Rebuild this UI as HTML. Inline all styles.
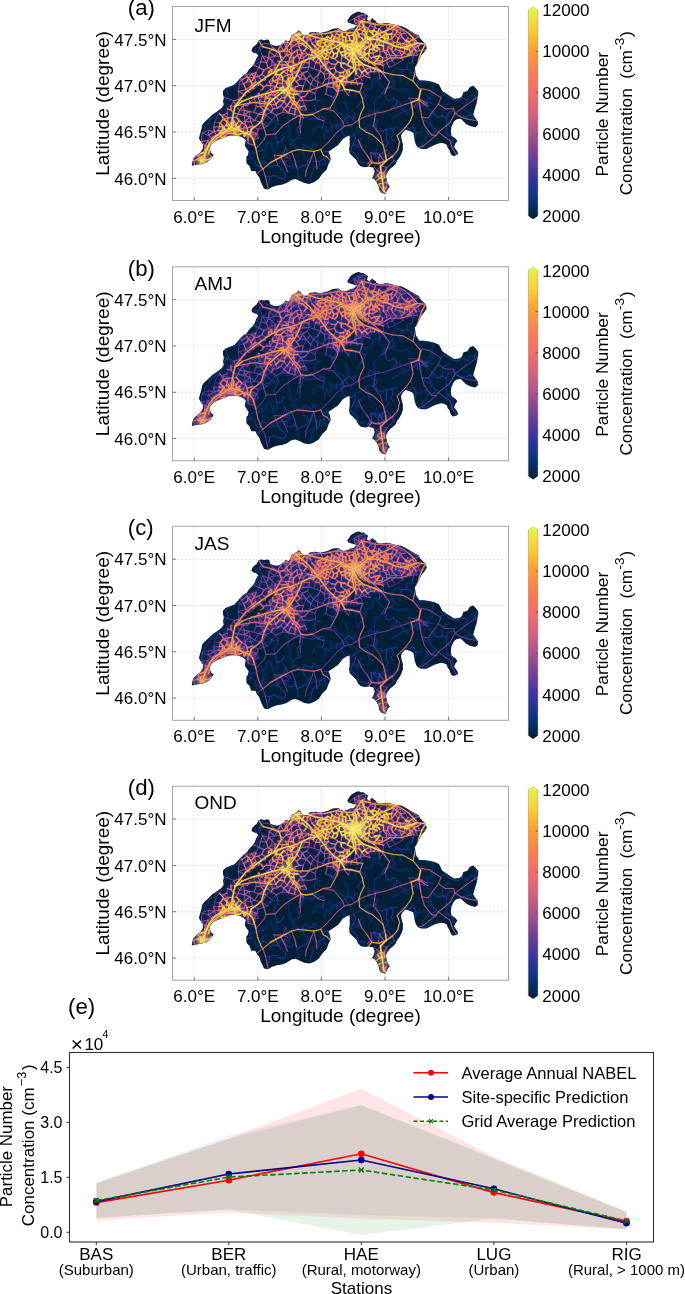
<!DOCTYPE html>
<html><head><meta charset="utf-8"><title>Particle number concentration maps</title>
<style>
html,body{margin:0;padding:0;background:#fff;}
body{width:685px;height:1294px;overflow:hidden;}
svg{display:block;will-change:transform;font-family:"Liberation Sans", sans-serif;fill:#000;}
.grid{stroke:#e4e4e4;stroke-width:1;stroke-dasharray:2.6 1.4;}
.frame{fill:none;stroke:#a6a6a6;stroke-width:1;}
.tick{stroke:#777;stroke-width:1;}
</style></head><body>
<svg width="685" height="1294" viewBox="0 0 685 1294">
<defs><path id="t0" d="M370.8 152.6L379.4 154.4M258.3 129.4L261.9 122.8M267.6 126.2L271.9 120.0M408.8 98.2L414.0 107.4M418.2 98.6L414.0 107.4M387.0 150.2L394.3 160.6M379.7 79.1L383.5 71.9M349.7 89.7L360.0 91.3M262.4 55.7L259.2 47.0M253.5 65.2L260.7 61.6M360.0 91.3L357.7 85.0M285.8 147.2L282.7 155.4M421.9 89.3L418.2 98.6M271.9 120.0L276.2 115.1M212.8 141.7L209.8 146.4M387.0 150.2L379.4 154.4M333.8 97.5L336.9 91.4M218.1 114.5L214.5 122.4"/>
<path id="h0" d=""/>
<path id="a0" d=""/>
<path id="t1" d="M315.8 99.2L314.9 93.6M409.6 31.5L405.3 33.5M267.6 126.2L261.9 122.8M376.7 170.2L381.6 166.1M390.5 55.7L392.8 52.4M374.2 71.7L378.9 71.7M412.2 39.6L414.1 34.3M395.5 64.6L389.0 67.4M278.4 120.9L276.2 115.1M271.9 120.0L265.8 115.0M376.7 170.2L373.2 165.5M317.9 82.1L322.8 83.7M354.1 18.5L348.6 22.2M387.0 57.7L387.1 62.7M362.5 80.9L360.0 77.6M247.5 105.6L243.3 101.5M370.1 77.9L367.7 73.4M277.6 164.4L274.1 155.2M202.1 133.0L208.2 135.2M250.2 117.1L249.1 111.6M208.6 130.5L208.2 135.2M328.9 82.6L333.0 83.1M228.2 117.9L227.2 113.2M258.3 76.6L255.8 72.6M317.1 88.4L314.9 93.6M201.4 141.8L202.1 133.0M349.7 89.7L351.0 85.3M384.1 161.1L381.6 166.1M270.7 44.7L264.5 43.3M303.6 118.0L294.7 114.6M239.2 99.3L238.3 91.6M365.8 14.4L364.6 19.2M378.5 162.0L379.4 154.4M258.5 138.3L256.7 133.9M408.8 98.2L418.2 98.6M202.1 133.0L208.6 130.5M233.9 100.8L224.2 97.0M259.2 47.0L264.5 43.3M239.2 84.6L238.3 91.6M303.4 85.5L306.2 79.4M362.5 80.9L357.7 85.0M309.3 91.2L310.9 84.3M383.5 71.9L383.3 65.7M387.0 57.7L390.5 55.7M348.7 95.5L349.7 89.7M387.1 62.7L392.0 60.6M408.0 37.9L405.3 33.5M325.7 94.2L333.8 97.5M267.6 126.2L258.3 129.4M218.1 114.5L223.1 115.0M317.9 82.1L318.0 75.0M379.7 79.1L378.9 71.7M302.4 73.4L297.9 75.7M377.5 175.4L373.4 178.9M370.8 152.6L371.8 160.3M351.0 85.3L357.7 85.0M412.4 62.6L413.5 55.1M253.0 126.2L251.6 131.7M307.3 71.2L308.9 67.0M306.7 109.8L300.0 110.7M250.3 102.0L254.1 98.5M239.2 84.6L243.6 83.7M395.5 64.6L392.0 60.6M387.0 167.5L381.6 166.1M403.1 59.9L395.5 64.6M214.5 122.4L213.8 127.1M364.6 19.2L358.5 16.1M396.6 55.6L399.3 50.6M247.1 98.6L243.3 101.5M265.8 115.0L271.3 112.1M383.3 65.7L387.1 62.7M239.2 84.6L240.7 78.9M258.9 67.6L255.8 72.6M220.2 123.0L214.5 122.4M233.9 100.8L230.8 105.7M227.4 108.9L227.2 113.2M378.5 162.0L373.2 165.5M211.8 138.1L208.2 140.4M288.0 157.7L282.7 155.4M244.8 74.3L240.7 78.9M304.7 105.9L303.0 100.2M387.0 167.5L394.3 160.6M310.9 84.3L317.1 88.4M282.3 112.4L288.5 113.0M409.6 31.5L414.1 34.3M307.3 71.2L310.4 75.2M371.8 160.3L373.2 165.5M272.1 60.8L274.9 56.0M258.5 138.3L253.8 139.5"/>
<path id="h1" d="M280.7 157.0L284.5 164.4"/>
<path id="a1" d="M435.2 94.0L441.0 97.7M441.0 97.7L438.4 104.2M438.4 104.2L445.4 108.8M445.4 108.8L453.7 108.8M453.7 108.8L455.0 113.5M455.0 113.5L461.3 108.8M461.3 108.8L467.7 104.2M467.7 104.2L472.8 100.5M472.8 100.5L477.9 96.8M438.4 132.0L445.4 137.6M445.4 137.6L449.9 140.3M449.9 140.3L452.4 148.7M452.4 148.7L456.2 154.2M456.2 154.2L459.4 157.9M435.9 135.7L428.9 141.3M428.9 141.3L423.2 145.9M423.2 145.9L418.1 147.7M404.4 104.7L397.7 107.0M397.7 107.0L391.4 109.3M391.4 109.3L385.0 111.6M385.0 111.6L375.5 113.5M375.5 113.5L369.7 115.3M369.7 115.3L364.0 117.2M364.0 117.2L358.9 120.0M358.9 120.0L351.9 124.6M351.9 124.6L347.5 125.5M347.5 125.5L344.3 126.4M344.3 126.4L337.3 132.0M337.3 132.0L330.9 139.4M330.9 139.4L325.9 144.5M325.9 144.5L320.8 149.6M344.3 126.4L342.4 120.9M342.4 120.9L336.0 113.5M336.0 113.5L333.5 110.7M333.5 110.7L323.3 108.8M299.8 122.7L300.4 132.9M318.2 119.0L323.9 120.9M313.8 151.4L310.0 161.6M310.0 161.6L306.1 170.9M306.1 170.9L305.5 176.4M313.8 151.4L316.3 161.6M316.3 161.6L316.9 169.0M262.9 169.0L265.4 176.4M265.4 176.4L267.3 184.8M267.3 184.8L268.6 190.3M284.5 164.4L287.7 171.8M291.5 151.4L294.7 159.8M294.7 159.8L296.6 167.2M455.0 113.5L461.3 117.2M461.3 117.2L467.0 119.0M467.0 119.0L477.2 120.9M383.1 145.0L380.5 135.7M380.5 135.7L373.6 126.4M373.6 126.4L374.5 120.0M374.5 120.0L375.5 113.5M262.9 169.0L257.8 172.7M257.8 172.7L254.0 175.5M255.9 148.7L261.0 143.1M261.0 143.1L264.2 139.4M264.2 139.4L266.1 134.8M424.4 104.2L428.2 106.1M438.4 104.2L432.7 111.6M432.7 111.6L428.2 118.1M428.2 118.1L421.9 117.2"/>
<path id="t2" d="M219.2 126.8L213.8 127.1M363.2 30.8L363.7 26.5M249.1 111.6L253.9 112.2M268.1 109.0L271.3 112.1M328.8 77.8L328.9 82.6M270.7 44.7L273.6 48.6M273.4 92.0L274.4 95.4M317.9 82.1L313.3 79.3M392.8 52.4L395.5 49.7M310.5 39.8L306.8 42.1M324.3 74.2L329.7 73.1M259.6 100.9L255.9 102.6M277.6 51.4L274.9 56.0M250.2 117.1L250.7 122.1M239.6 110.1L244.3 110.3M260.7 61.6L258.9 67.6M217.1 139.7L221.4 137.7M302.1 67.8L298.4 69.8M303.0 100.2L299.0 100.5M270.1 94.7L270.1 98.5M246.0 89.5L244.9 94.7M292.2 53.8L293.7 58.1M282.3 112.4L283.7 108.6M367.5 164.0L371.8 160.3M359.7 25.8L359.4 22.0M304.2 50.7L300.5 49.7M269.2 51.8L274.9 56.0M254.6 120.6L258.6 114.2M342.1 33.1L345.9 31.7M348.7 95.5L344.0 89.7M244.3 110.3L242.9 105.6M381.0 26.7L379.1 29.3M349.1 32.3L351.2 29.0M302.0 40.4L306.8 42.1M282.3 112.4L276.2 115.1M315.9 37.5L320.8 34.0M268.1 109.0L264.3 106.2M402.4 37.4L398.3 38.7M404.7 52.5L407.5 55.2M301.7 92.2L297.9 94.2M208.6 153.6L211.6 157.4M294.0 45.4L298.9 46.8M265.6 92.8L270.2 89.4M313.9 68.8L308.9 67.0M270.5 85.7L270.2 89.4M380.1 52.2L383.5 50.9M253.0 126.2L250.7 122.1M277.9 61.1L279.1 64.3M395.1 34.6L400.7 33.8M351.4 81.6L346.7 82.7M327.2 86.7L322.8 83.7M364.6 19.2L364.1 23.1M277.6 51.4L280.4 56.1M299.0 100.5L300.9 97.2M344.0 89.7L336.9 91.4M256.2 106.7L253.9 112.2M244.9 94.7L238.3 91.6M208.2 140.4L209.8 146.4M254.6 120.6L261.9 122.8M400.3 28.8L400.7 33.8M356.2 30.0L354.8 32.7M262.3 90.9L265.6 92.8M272.1 60.8L271.6 65.6M370.1 25.4L375.0 27.7M418.6 36.9L414.1 34.3M312.1 43.6L315.3 41.2M264.4 101.9L264.3 106.2M424.9 49.9L419.5 50.9M272.1 60.8L275.3 64.4M294.0 45.4L290.5 44.1M304.9 62.3L302.1 67.8M275.3 64.4L271.6 65.6M258.3 129.4L253.0 126.2M280.7 105.8L283.7 108.6M265.8 115.0L264.2 111.0M378.9 64.1L376.7 60.1M319.4 62.7L320.8 66.4M324.9 79.4L328.8 77.8M324.9 79.4L324.3 74.2M223.1 115.0L223.0 119.4M387.0 182.9L386.4 187.1M271.6 69.8L274.8 68.9M282.5 65.0L281.6 61.4M309.1 100.8L315.8 99.2M254.1 98.5L255.9 102.6M379.4 154.4L384.1 161.1M216.2 135.2L214.4 131.6M275.3 64.4L279.1 64.3M320.5 70.9L313.9 68.8M310.9 84.3L313.3 79.3M258.6 114.2L253.9 112.2M286.3 55.2L289.9 57.6M245.1 121.1L250.7 122.1M247.1 98.6L244.9 94.7M364.1 23.1L359.4 22.0M400.3 28.8L405.3 33.5M357.7 85.0L355.9 78.8M325.9 64.8L330.6 68.8M325.7 94.2L327.2 86.7M274.1 155.2L282.7 155.4M300.4 78.7L306.2 79.4M309.3 91.2L314.9 93.6M236.4 106.6L230.8 105.7M315.6 62.6L313.3 59.9M310.4 75.2L306.2 79.4M274.9 56.0L268.6 57.9M264.4 101.9L259.6 100.9M256.2 106.7L255.9 102.6M390.5 55.7L392.0 60.6M375.0 27.7L379.1 29.3M250.2 117.1L254.6 120.6M408.0 37.9L412.2 39.6M254.1 98.5L258.2 97.3M302.4 73.4L298.4 69.8M244.8 74.3L248.6 77.8M283.7 50.8L286.3 55.2M297.9 94.2L295.1 90.6M403.1 59.9L401.4 55.4M386.2 24.8L381.0 26.7M208.6 130.5L214.4 131.6M290.6 107.3L287.0 105.7M325.5 69.7L329.7 73.1M337.5 86.4L333.4 87.5M315.9 37.5L310.5 39.8M360.0 77.6L364.0 76.0M211.8 138.1L208.2 135.2M426.9 103.3L418.2 98.6M253.5 65.2L258.9 67.6M400.3 28.8L397.0 26.2M261.9 96.7L259.6 100.9M396.6 55.6L401.4 55.4M315.6 62.6L313.9 68.8M276.2 115.1L271.3 112.1M245.1 121.1L244.2 115.1M262.4 55.7L268.6 57.9M247.1 81.7L251.0 81.6M254.6 120.6L250.7 122.1M236.4 106.6L239.6 110.1M325.5 69.7L320.8 66.4M268.2 67.9L271.6 65.6M201.4 141.8L205.2 145.8M262.4 55.7L266.5 62.8M247.5 105.6L242.9 105.6M251.7 74.0L244.8 74.3M271.2 104.6L272.9 108.8M417.5 55.5L413.5 55.1M246.0 89.5L238.3 91.6M262.4 55.7L260.7 61.6M310.4 75.2L313.3 79.3M376.7 170.2L380.1 172.6M407.5 55.2L413.5 55.1M258.2 97.3L259.2 93.6M280.4 56.1L274.9 56.0M389.0 67.4L387.1 62.7M254.4 77.2L248.6 77.8M265.6 97.7L261.9 96.7M304.2 50.7L307.9 54.3M378.9 64.1L375.8 67.6M309.4 58.6L309.3 62.9M317.9 82.1L317.1 88.4M261.9 122.8L265.8 115.0M273.0 81.1L269.2 81.0M344.1 85.8L346.7 82.7M390.8 25.4L393.8 29.0M275.7 86.7L270.2 89.4M251.7 74.0L248.6 77.8M354.1 18.5L358.5 16.1M417.5 55.5L416.0 50.9M349.7 89.7L344.0 89.7M365.8 14.4L358.5 16.1M325.5 69.7L324.3 74.2M250.4 93.1L253.7 88.7M260.7 61.6L266.5 62.8M265.2 76.8L268.4 75.7M412.0 51.3L407.7 49.4M266.8 85.5L265.7 80.5M396.7 45.9L393.1 46.1M303.6 118.0L300.0 110.7M315.9 37.5L315.3 41.2M309.1 100.8L303.0 100.2M324.9 79.4L322.8 83.7M364.0 76.0L367.7 73.4M201.4 141.8L208.2 140.4M404.4 48.5L403.8 43.7M388.2 47.0L390.5 43.4M228.2 117.9L223.1 115.0M251.7 135.6L256.7 133.9M318.0 75.0L313.3 79.3M247.2 127.9L244.0 128.0M419.5 50.9L416.0 50.9M253.5 145.1L248.2 143.4M259.1 83.3L255.7 82.3M253.8 139.5L256.7 133.9M416.0 50.9L413.5 55.1M243.6 83.7L240.7 78.9M383.5 71.9L378.9 71.7M315.9 37.5L314.3 32.8M253.5 145.1L253.8 139.5M258.3 129.4L256.7 133.9M387.0 57.7L382.6 57.8M245.1 121.1L241.9 122.8M285.2 61.6L281.6 61.4M344.0 89.7L344.1 85.8M386.2 24.8L390.8 25.4M383.3 65.7L382.1 61.7"/>
<path id="h2" d="M418.7 99.6L420.6 110.7M371.6 162.6L367.2 155.2M301.0 114.4L299.8 122.7M301.0 114.4L292.8 119.0M263.8 127.8L261.6 120.9M418.7 99.6L424.4 104.2"/>
<path id="a2" d="M420.6 88.5L429.5 90.3M429.5 90.3L435.2 94.0M420.6 110.7L421.9 117.2M421.9 117.2L424.4 125.5M424.4 125.5L431.4 134.8M431.4 134.8L435.9 135.7M435.9 135.7L438.4 132.0M438.4 132.0L442.2 129.2M442.2 129.2L449.9 122.7M449.9 122.7L455.0 113.5M411.1 102.4L404.4 104.7M367.2 155.2L361.5 147.7M361.5 147.7L358.3 139.4M292.8 119.0L284.5 124.6M284.5 124.6L281.3 127.4M281.3 127.4L275.6 133.9M275.6 133.9L266.1 134.8M266.1 134.8L263.8 127.8M312.5 114.4L318.2 119.0"/>
<path id="t3" d="M377.7 32.4L381.6 31.5M284.3 101.3L280.7 105.8M238.2 113.8L244.2 115.1M359.7 25.8L363.7 26.5M304.2 50.7L302.0 53.7M219.2 126.8L218.6 130.3M345.8 37.3L346.7 34.4M265.8 115.0L258.6 114.2M304.9 62.3L303.3 57.9M295.4 72.3L292.4 74.4M320.5 70.9L320.8 66.4M341.2 63.1L341.4 59.0M251.7 135.6L251.6 131.7M333.9 74.4L332.4 77.7M387.3 28.9L384.8 32.0M354.1 18.5L355.4 23.8M275.5 74.7L272.5 77.4M388.2 47.0L391.4 49.2M336.1 40.9L334.5 36.9M320.5 70.9L318.0 75.0M287.0 105.7L284.3 101.3M388.2 47.0L393.1 46.1M380.0 34.5L381.6 31.5M302.4 73.4L306.2 79.4M251.7 74.0L255.8 72.6M333.0 83.1L332.4 77.7M239.6 110.1L238.2 113.8M399.3 50.6L400.8 47.5M287.3 42.0L290.5 44.1M227.3 121.3L230.7 123.3M277.5 108.1L272.9 108.8M361.8 61.0L361.6 64.4M296.2 35.0L292.1 36.6M294.7 114.6L288.5 113.0M292.2 89.2L295.5 87.0M310.3 49.2L307.0 47.5M290.6 107.3L295.3 108.9M236.2 117.1L238.2 113.8M401.4 55.4L399.3 50.6M247.5 105.6L250.3 102.0M220.2 123.0L219.2 126.8M302.0 40.4L302.7 43.8M391.5 39.2L393.7 42.5M383.9 173.1L387.0 167.5M321.0 59.4L324.8 59.0M259.6 100.9L258.2 97.3M418.6 36.9L412.2 39.6M404.4 48.5L400.8 47.5M302.4 73.4L307.3 71.2M359.4 22.0L358.5 16.1M258.3 76.6L261.2 79.7M351.0 85.3L351.4 81.6M259.1 83.3L261.2 79.7M372.8 53.5L374.7 56.7M269.2 51.8L268.6 57.9M381.6 188.3L386.4 187.1M260.2 106.4L264.3 106.2M293.0 78.0L296.3 81.5M266.5 62.8L268.6 57.9M320.5 70.9L324.3 74.2M395.1 34.6L391.5 33.9M405.9 40.9L403.8 43.7M375.9 46.5L377.0 50.9M194.5 164.4L193.6 160.6M380.2 178.3L384.6 178.3M396.6 55.6L392.0 60.6M412.0 51.3L413.5 55.1M336.2 33.2L334.5 36.9M302.4 73.4L300.4 78.7M233.9 100.8L239.2 99.3M239.6 110.1L242.9 105.6M380.1 52.2L379.8 55.7M259.1 83.3L257.9 88.1M329.7 73.1L332.4 77.7M277.9 61.1L281.6 61.4M383.5 191.6L381.6 188.3M266.5 62.8L268.2 67.9M342.0 55.7L345.7 57.9M380.1 52.2L379.6 49.0M331.6 47.3L327.0 47.8M299.0 62.4L299.5 58.7M333.9 74.4L336.2 71.4M250.2 117.1L245.1 121.1M269.2 81.0L272.5 77.4M242.9 105.6L243.3 101.5M400.3 28.8L397.0 31.4M208.6 153.6L204.2 152.3M244.0 128.0L245.4 124.6M400.8 47.5L403.8 43.7M217.1 139.7L216.2 135.2M365.4 64.2L368.5 64.8M223.1 115.0L227.2 113.2M309.4 58.6L307.9 54.3M286.3 46.2L283.2 43.1M244.3 136.2L248.2 135.6M293.0 62.3L289.9 57.6M272.1 60.8L268.6 57.9M245.1 121.1L245.4 124.6M247.1 98.6L250.3 102.0M260.2 106.4L259.6 100.9M308.9 67.0L309.3 62.9M384.1 35.0L381.6 31.5M359.4 22.0L355.4 23.8M270.5 85.7L275.7 86.7M309.3 91.2L304.9 96.3M327.2 86.7L333.4 87.5M205.2 145.8L208.2 140.4M244.0 128.0L243.5 132.6M381.6 188.3L378.9 184.4M238.7 134.8L237.9 131.9M370.1 25.4L370.6 20.3M375.5 43.3L373.2 45.5M340.1 76.1L340.0 72.7M375.8 67.6L378.9 71.7M208.6 153.6L204.7 156.6M328.8 77.8L329.7 73.1M233.9 113.2L238.2 113.8M318.5 57.8L315.6 62.6M359.4 22.0L354.1 18.5M255.7 82.3L254.4 77.2M387.0 182.9L384.6 178.3M330.6 68.8L329.7 73.1M362.0 72.4L364.0 76.0M248.2 143.4L247.9 139.6M265.2 76.8L261.7 74.5M250.4 86.7L246.0 89.5M294.0 45.4L298.8 43.0M302.7 43.8L298.9 46.8M309.4 58.6L313.3 59.9M303.0 100.2L300.9 97.2M303.3 57.9L302.0 53.7M360.0 77.6L355.9 78.8M275.8 104.3L277.5 108.1M356.2 30.0L351.2 29.0M292.2 89.2L290.1 93.5M280.4 45.8L283.7 50.8M251.7 135.6L253.8 139.5M273.4 92.0L270.1 94.7M309.8 35.1L314.3 32.8M405.3 33.5L400.7 33.8M306.7 109.8L304.7 105.9M250.2 117.1L244.2 115.1M285.3 89.2L283.1 86.9M300.4 107.0L295.3 108.9M328.4 61.9L327.8 58.9M239.2 99.3L243.3 101.5M387.5 50.4L385.9 53.7M368.0 58.6L368.9 55.8M356.1 73.7L360.0 77.6M384.8 32.0L384.1 35.0M300.0 110.7L300.4 107.0M364.1 23.1L370.6 20.3M260.2 106.4L264.2 111.0M333.4 87.5L336.9 91.4M277.0 97.7L273.6 98.9M297.0 50.1L300.5 49.7M383.4 45.9L383.2 42.5M386.2 24.8L387.3 28.9M297.9 94.2L300.9 97.2M415.5 43.5L418.0 46.2M362.0 72.4L360.0 77.6M280.4 45.8L283.2 43.1M369.1 61.9L368.5 64.8M282.5 83.4L283.1 86.9M245.4 124.6L241.9 122.8M377.0 50.9L379.6 49.0M287.2 69.6L283.9 71.2M331.5 63.9L328.4 61.9M249.1 111.6L244.2 115.1M302.0 53.7L307.9 54.3M218.6 130.3L214.4 131.6M378.5 162.0L381.6 166.1M370.1 25.4L375.3 23.5M258.6 114.2L264.2 111.0M303.4 85.5L299.3 85.6M327.2 86.7L328.9 82.6M396.7 45.9L397.0 42.2M248.2 135.6L247.5 132.0M284.1 93.3L287.4 94.7M244.3 110.3L244.2 115.1M352.9 76.9L356.1 73.7M318.5 57.8L314.8 56.5M328.8 77.8L332.4 77.7M390.5 55.7L387.5 50.4M292.2 53.8L291.4 47.7M382.6 57.8L379.8 55.7M283.5 58.2L281.6 61.4M264.1 70.1L258.9 67.6M287.2 69.6L287.8 75.0M269.2 51.8L273.6 48.6M378.9 64.1L382.1 61.7M292.8 104.4L290.6 107.3M302.1 67.8L308.9 67.0M399.3 50.6L395.5 49.7M284.9 97.8L281.7 97.3M281.3 68.7L283.9 71.2M337.5 86.4L340.5 84.2M288.3 85.9L291.6 85.2M213.8 127.1L214.4 131.6M236.4 106.6L233.9 100.8M273.4 92.0L278.0 92.4M303.3 57.9L299.5 58.7M214.4 131.6L208.2 135.2M288.7 61.6L285.2 61.6M273.0 81.1L270.5 85.7M250.4 86.7L253.7 88.7M390.5 55.7L396.6 55.6M218.6 130.3L219.5 133.6M249.1 111.6L244.3 110.3M310.9 84.3L306.2 79.4M301.7 92.2L303.4 85.5M232.5 117.6L236.2 117.1M333.3 41.3L332.8 44.1M352.0 62.0L354.0 59.9M310.5 39.8L312.1 43.6M334.9 58.8L337.8 61.7M390.5 55.7L385.9 53.7M251.6 131.7L256.7 133.9M368.0 28.4L370.1 25.4M288.2 51.1L286.3 55.2M390.5 43.4L393.7 42.5M271.2 104.6L275.8 104.3M244.9 94.7L239.2 99.3M261.9 96.7L258.2 97.3M268.1 109.0L264.2 111.0M360.8 53.4L364.2 52.3M295.1 90.6L295.5 87.0M264.1 70.1L268.2 67.9M292.2 89.2L291.6 85.2M352.9 76.9L355.9 78.8M253.0 84.4L251.0 81.6M256.2 106.7L260.2 106.4M370.1 77.9L364.0 76.0M419.5 50.9L418.0 46.2"/>
<path id="h3" d="M356.4 82.9L362.7 83.8M381.8 71.8L385.6 76.9M400.9 57.9L390.1 57.9M247.0 76.4L241.9 80.1M307.4 91.3L318.2 87.6"/>
<path id="a3" d="M323.3 108.8L330.3 107.9M362.7 83.8L359.6 92.2M385.6 76.9L389.5 82.0M389.5 82.0L385.0 93.1"/>
<path id="t4" d="M345.8 41.3L345.5 45.7M297.4 66.1L299.0 62.4M277.9 79.5L282.6 76.8M288.5 113.0L283.7 108.6M334.5 67.9L330.6 68.8M246.0 89.5L250.4 93.1M318.3 54.2L315.3 53.6M359.7 25.8L359.5 29.4M390.8 25.4L397.0 26.2M391.5 39.2L388.4 38.8M270.1 94.7L265.6 92.8M204.7 156.6L204.2 152.3M265.7 80.5L269.2 81.0M318.6 40.7L315.3 41.2M354.7 45.0L357.8 43.7M277.6 51.4L273.6 48.6M279.6 100.3L281.7 97.3M334.5 67.9L335.7 64.5M376.7 37.2L374.4 35.7M384.8 32.0L381.6 31.5M280.4 56.1L283.5 58.2M400.7 33.8L397.0 31.4M330.5 41.7L332.8 44.1M282.5 83.4L282.7 80.2M239.9 129.5L237.9 131.9M413.9 48.1L412.0 51.3M383.5 50.9L387.5 50.4M286.3 46.2L287.3 42.0M359.0 68.8L358.8 65.1M342.0 55.7L341.4 59.0M319.4 62.7L321.0 59.4M283.9 71.2L287.8 75.0M272.5 77.4L271.7 73.8M287.0 105.7L283.7 108.6M363.7 45.6L365.1 49.6M323.5 53.0L322.2 55.6M348.0 44.6L345.8 41.3M232.9 133.3L234.8 130.2M266.8 85.5L270.5 85.7M310.5 39.8L307.3 37.4M361.9 38.0L359.4 36.6M280.2 88.3L278.0 92.4M315.0 46.5L317.0 44.2M304.9 62.3L299.0 62.4M291.4 47.7L290.5 44.1M293.7 58.1L289.9 57.6M298.8 43.0L298.9 46.8M297.4 66.1L294.2 67.6M306.8 42.1L307.0 47.5M205.2 145.8L205.0 149.2M413.9 48.1L415.5 43.5M286.3 46.2L283.7 50.8M277.0 97.7L274.4 95.4M383.5 50.9L385.9 53.7M343.4 72.3L344.0 76.6M302.7 43.8L306.8 42.1M377.5 175.4L380.1 172.6M304.7 105.9L300.4 107.0M370.0 31.2L366.7 32.3M341.3 66.8L345.1 69.8M300.0 110.7L295.3 108.9M350.5 52.7L353.3 49.6M331.6 47.3L331.9 50.5M223.6 126.8L226.5 125.1M275.8 104.3L273.6 98.9M367.7 73.4L370.7 71.3M356.9 56.8L354.2 55.1M270.1 94.7L274.4 95.4M239.9 129.5L244.0 128.0M372.8 53.5L372.8 49.2M357.0 38.8L356.1 41.4M282.5 65.0L279.1 64.3M295.7 39.6L291.9 41.1M294.7 114.6L295.3 108.9M290.8 71.4L292.4 74.4M363.5 66.7L364.7 70.4M277.9 79.5L275.5 74.7M290.8 71.4L295.4 72.3M277.6 51.4L280.4 45.8M277.5 108.1L280.7 105.8M233.8 121.4L236.2 124.5M297.4 66.1L293.0 62.3M320.8 34.0L323.6 39.4M336.7 82.1L333.0 83.1M329.8 53.3L328.9 56.1M351.5 67.4L348.4 70.3M363.2 56.5L361.8 61.0M346.7 82.7L342.0 81.4M200.8 160.8L200.3 163.8M325.5 69.7L325.9 64.8M358.5 33.7L362.0 33.8M251.7 74.0L254.4 77.2M345.8 41.3L343.1 42.7M337.5 86.4L336.9 91.4M211.8 138.1L212.8 141.7M371.4 57.9L368.9 55.8M271.6 69.8L268.2 67.9M205.0 149.2L209.8 146.4M227.4 108.9L231.2 110.1M275.3 64.4L274.8 68.9M391.5 33.9L393.8 29.0M205.2 159.7L204.7 156.6M355.7 36.1L359.4 36.6M266.8 85.5L263.5 86.9M380.2 41.7L378.9 44.6M265.2 76.8L265.7 80.5M345.7 57.9L349.2 55.6M291.4 47.7L294.0 45.4M288.3 78.6L287.8 75.0M358.3 61.9L355.4 62.3M375.5 43.3L376.8 40.6M367.2 68.6L370.4 67.6M404.7 52.5L404.4 48.5M197.6 155.4L200.5 157.5M228.0 133.3L228.2 129.8M365.1 49.6L364.2 52.3M239.0 103.7L239.2 99.3M348.4 70.3L345.1 69.8M324.4 61.9L328.4 61.9M383.5 191.6L386.4 187.1M287.2 69.6L290.2 67.6M197.4 159.4L193.6 160.6M292.8 104.4L290.0 101.3M288.7 61.6L289.9 57.6M402.4 37.4L400.7 33.8M303.3 57.9L307.9 54.3M264.1 70.1L261.7 74.5M411.7 45.9L408.2 45.3M293.0 62.3L294.2 67.6M370.4 67.6L370.7 71.3M286.3 55.2L283.5 58.2M383.3 181.8L384.6 178.3M315.9 37.5L309.8 35.1M340.5 84.2L342.0 81.4M290.8 97.2L290.0 101.3M292.2 53.8L288.2 51.1M243.6 83.7L247.1 81.7M279.6 100.3L277.0 97.7M374.2 71.7L370.7 71.3M300.4 78.7L297.9 75.7M400.7 33.8L398.3 38.7M271.3 112.1L272.9 108.8M251.6 131.7L247.5 132.0M333.3 41.3L336.1 40.9M351.4 81.6L355.9 78.8M254.4 77.2L255.8 72.6M258.3 76.6L261.7 74.5M365.2 59.5L361.8 61.0M364.6 19.2L359.4 22.0M250.4 93.1L255.6 92.5M224.6 136.7L228.0 133.3M265.7 80.5L261.2 79.7M288.3 78.6L292.4 74.4M255.6 92.5L253.7 88.7M282.6 76.8L287.8 75.0M229.3 126.0L230.7 123.3M321.0 59.4L322.2 55.6M405.9 40.9L408.2 45.3M323.6 39.4L321.0 42.7M333.4 87.5L333.0 83.1M239.0 103.7L242.9 105.6M304.9 62.3L309.3 62.9M348.3 47.6L352.0 47.2M251.7 135.6L248.2 135.6M383.9 173.1L380.1 172.6M348.0 44.6L348.3 47.6M228.2 117.9L227.3 121.3M396.6 55.6L392.8 52.4M262.3 90.9L259.2 93.6M225.0 129.3L223.6 133.5M324.4 61.9L324.8 59.0M282.5 65.0L281.3 68.7M295.5 87.0L299.3 85.6M297.6 55.1L299.5 58.7M336.2 33.2L338.1 29.6M311.5 55.3L309.4 58.6M395.1 34.6L398.3 38.7M339.0 41.9L343.1 42.7M228.0 133.3L223.6 133.5M361.1 47.3L365.1 49.6M300.5 49.7L298.9 46.8M369.6 49.2L369.7 46.2M277.9 70.0L274.8 68.9M369.1 61.9L368.0 58.6M335.5 45.9L336.7 48.5M297.0 50.1L297.6 55.1M297.1 103.4L299.0 100.5M325.5 69.7L330.6 68.8M327.1 51.6L324.4 49.4M297.4 66.1L298.4 69.8M387.0 57.7L385.9 53.7M277.9 79.5L282.7 80.2M315.3 41.2L317.0 44.2M233.9 113.2L231.2 110.1M258.3 76.6L254.4 77.2M293.0 78.0L297.9 75.7M270.5 85.7L269.2 81.0M290.6 107.3L288.5 113.0M284.9 97.8L284.3 101.3M217.1 139.7L212.8 141.7M304.9 96.3L300.9 97.2M365.4 64.2L365.2 59.5M340.0 72.7L336.2 71.4M370.4 40.6L368.1 42.2M393.8 29.0L397.0 26.2M300.4 78.7L296.3 81.5M365.4 64.2L363.5 66.7M408.0 37.9L405.9 40.9M338.5 38.7L342.7 39.5M352.0 57.1L349.2 55.6M349.5 60.9L352.0 62.0M239.5 126.4L241.9 122.8M246.0 89.5L243.6 83.7M291.4 47.7L288.2 51.1M296.3 81.5L299.3 85.6M353.3 72.3L356.1 73.7"/>
<path id="h4" d="M262.9 46.8L258.4 40.3M337.3 95.0L338.9 88.0M226.0 120.9L219.6 113.5M386.3 160.7L378.6 163.5M378.6 163.5L371.6 162.6M371.6 162.6L367.2 168.1M348.7 82.0L356.4 82.9M373.6 64.4L381.8 71.8M408.5 45.9L411.1 55.1M411.1 55.1L400.9 57.9M390.1 57.9L381.8 62.5M381.8 62.5L373.6 64.4M289.6 44.0L284.5 50.5M284.5 50.5L279.4 52.4M253.3 86.6L250.2 80.1M250.2 80.1L247.0 76.4M297.2 91.3L307.4 91.3M318.2 87.6L327.8 83.8M327.8 83.8L334.1 82.5M308.0 34.8L318.2 33.8M318.2 33.8L325.2 33.8M369.1 22.7L376.1 24.6M376.1 24.6L382.1 24.6M382.1 24.6L388.2 24.6M395.8 25.5L404.1 30.1M404.1 30.1L409.2 33.8M268.0 104.2L261.0 103.3M261.0 103.3L254.0 102.4M254.0 102.4L243.8 104.2M243.8 104.2L234.9 106.1M381.8 177.4L378.6 179.2M378.6 179.2L376.1 181.1"/>
<path id="a4" d="M312.5 114.4L318.2 111.6M318.2 111.6L323.3 108.8M330.3 107.9L333.8 101.4M333.8 101.4L337.3 95.0"/>
<path id="t5" d="M346.6 78.1L348.7 75.6M294.0 97.8L294.3 101.2M271.7 73.8L268.6 72.0M334.5 67.9L336.2 71.4M306.8 42.1L307.3 37.4M370.4 40.6L373.1 38.2M319.7 46.1L317.9 49.0M261.9 96.7L265.6 92.8M364.1 23.1L363.7 26.5M363.7 45.6L366.8 47.3M408.2 45.3L403.8 43.7M329.9 32.1L332.1 35.1M379.1 29.3L381.6 31.5M247.2 127.9L245.4 124.6M325.9 64.8L328.4 61.9M376.7 60.1L382.1 61.7M375.3 23.5L375.0 27.7M232.4 125.7L230.7 123.3M312.2 52.4L315.3 53.6M310.5 39.8L309.8 35.1M265.6 97.7L270.1 94.7M354.7 45.0L353.0 41.3M205.0 149.2L204.2 152.3M253.7 88.7L253.0 84.4M315.0 46.5L315.1 50.7M280.2 88.3L275.7 86.7M393.7 42.5L397.0 42.2M300.5 49.7L302.0 53.7M218.6 130.3L221.6 131.1M287.0 105.7L290.0 101.3M205.2 145.8L209.8 146.4M343.4 72.3L345.1 69.8M331.5 63.9L335.7 64.5M262.3 90.9L257.9 88.1M288.2 51.1L286.3 46.2M230.8 105.7L231.2 110.1M396.7 45.9L395.5 49.7M297.1 103.4L295.3 108.9M278.0 92.4L274.4 95.4M293.7 58.1L297.6 55.1M302.0 40.4L299.7 37.7M359.5 29.4L363.7 26.5M284.1 93.3L282.4 90.7M325.9 45.2L330.1 44.5M292.2 53.8L289.9 57.6M197.4 159.4L200.5 157.5M366.4 54.0L364.2 52.3M360.8 42.5L357.8 43.7M201.0 153.4L197.6 155.4M413.9 48.1L418.0 46.2M273.4 92.0L270.2 89.4M253.7 88.7L257.9 88.1M216.2 135.2L219.5 133.6M346.6 78.1L344.0 76.6M388.2 47.0L387.5 50.4M411.7 45.9L409.2 41.8M367.2 68.6L364.7 70.4M204.7 156.6L200.5 157.5M347.3 53.0L345.0 51.2M380.2 41.7L383.2 42.5M337.5 86.4L336.7 82.1M383.9 173.1L384.6 178.3M400.4 43.4L397.0 42.2M286.1 81.8L288.3 78.6M302.0 53.7L299.5 58.7M325.9 64.8L324.4 61.9M326.5 54.7L328.9 56.1M345.9 31.7L346.7 34.4M332.2 57.8L328.9 56.1M347.1 73.0L344.0 76.6M336.7 82.1L342.0 81.4M411.7 45.9L413.9 48.1M374.2 71.7L375.8 67.6M262.3 90.9L261.9 96.7M336.5 78.5L332.4 77.7M220.2 123.0L223.0 119.4M270.1 98.5L273.6 98.9M228.2 117.9L232.5 117.6M250.4 86.7L253.0 84.4M400.4 43.4L403.8 43.7M355.7 36.1L354.8 32.7M337.8 61.7L335.7 64.5M277.6 51.4L283.7 50.8M318.6 40.7L321.0 42.7M286.1 81.8L282.7 80.2M285.3 89.2L288.3 90.3M368.0 28.4L363.7 26.5M364.6 42.9L363.0 40.5M368.0 28.4L370.0 31.2M297.6 55.1L302.0 53.7M287.3 42.0L283.2 43.1M314.8 56.5L318.3 54.2M352.9 76.9L351.4 81.6M350.2 40.4L345.8 41.3M324.2 42.9L321.0 42.7M273.0 81.1L277.9 79.5M383.2 42.5L386.9 42.9M342.1 33.1L338.1 29.6M277.9 79.5L277.6 83.0M322.5 46.7L324.4 49.4M387.3 28.9L393.8 29.0M326.7 41.2L330.1 44.5M331.1 38.7L333.3 41.3M287.8 75.0L292.4 74.4M297.1 103.4L300.4 107.0M359.0 68.8L355.5 69.2M344.1 85.8L342.0 81.4M314.8 56.5L315.3 53.6M211.8 138.1L216.2 135.2M273.0 81.1L277.6 83.0M374.7 56.7L376.7 60.1M342.5 36.6L339.7 35.5M292.2 89.2L288.3 90.3M262.3 90.9L263.5 86.9M393.7 42.5L393.1 46.1M346.6 78.1L346.7 82.7M331.1 38.7L330.5 41.7M231.7 129.1L232.4 125.7M383.3 181.8L387.0 182.9M234.8 130.2L237.9 131.9M344.1 85.8L340.5 84.2M372.8 53.5L377.0 50.9M378.9 64.1L383.3 65.7M404.7 52.5L401.4 55.4M325.9 64.8L320.8 66.4M311.5 55.3L312.2 52.4M402.4 37.4L405.9 40.9M390.8 25.4L387.3 28.9M395.1 34.6L397.0 31.4M335.5 45.9L332.8 44.1M359.5 29.4L363.2 30.8M280.2 74.7L277.9 79.5M303.8 36.7L307.3 37.4M265.6 97.7L264.4 101.9M223.6 133.5L221.6 131.1M393.8 29.0L397.0 31.4M295.1 90.6L293.1 94.4M259.1 83.3L263.5 86.9M404.7 52.5L399.3 50.6M352.0 47.2L353.3 49.6M254.4 77.2L251.0 81.6M285.2 61.6L287.9 65.0M321.0 42.7L317.0 44.2M392.8 52.4L391.4 49.2M332.1 35.1L334.5 36.9M377.5 175.4L380.2 178.3M292.2 53.8L297.0 50.1M247.1 81.7L248.6 77.8M415.5 43.5L412.2 39.6M282.5 83.4L277.6 83.0M319.4 62.7L315.6 62.6M354.6 52.3L353.3 49.6M333.9 74.4L329.7 73.1M247.2 127.9L253.0 126.2M397.0 31.4L397.0 26.2M391.5 33.9L391.5 39.2M370.4 67.6L368.5 64.8M295.4 72.3L298.4 69.8M420.9 44.1L418.0 46.2M292.2 53.8L286.3 55.2M376.8 40.6L378.9 44.6M224.6 136.7L223.6 133.5M273.4 92.0L275.7 86.7M271.7 73.8L268.4 75.7M295.4 72.3L297.9 75.7M385.2 38.3L387.8 34.5M288.2 51.1L283.7 50.8M363.5 66.7L361.6 64.4M362.0 33.8L363.2 30.8M342.5 36.6L342.7 39.5M326.7 41.2L330.5 41.7M340.1 76.1L336.5 78.5M352.9 76.9L353.3 72.3M288.7 61.6L287.9 65.0M373.3 30.6L375.0 27.7M350.5 52.7L354.6 52.3M295.7 39.6L298.8 43.0M318.5 57.8L318.3 54.2M344.7 63.4L347.4 65.1M228.2 117.9L223.0 119.4M375.8 67.6L370.4 67.6M243.5 132.6L247.5 132.0M357.0 38.8L359.4 36.6M395.1 34.6L391.5 39.2M236.4 106.6L239.0 103.7M408.2 45.3L409.2 41.8M268.6 72.0L268.4 75.7M247.9 139.6L248.2 135.6M288.7 61.6L293.0 62.3M255.6 92.5L259.2 93.6M356.1 41.4L353.0 41.3M295.7 39.6L292.1 36.6M232.4 125.7L236.2 124.5M369.7 46.2L368.1 42.2M372.8 53.5L369.0 52.8M328.9 56.1L327.8 58.9M382.6 57.8L382.1 61.7"/>
<path id="h5" d="M254.0 142.2L255.9 148.7M270.5 162.6L280.7 157.0M280.7 157.0L286.1 154.2M351.9 90.3L359.6 92.2M418.7 99.6L411.1 102.4M392.6 156.1L386.3 160.7M297.9 107.9L301.0 114.4M301.0 114.4L306.1 115.3M306.1 115.3L312.5 114.4M278.2 65.3L281.3 59.8M281.3 59.8L279.4 52.4M279.4 52.4L270.5 48.7M270.5 48.7L262.9 46.8M338.9 88.0L340.5 81.1M231.1 127.4L226.0 120.9M340.5 81.1L348.7 82.0M356.4 51.4L365.9 57.9M365.9 57.9L373.6 64.4M295.3 34.8L289.6 44.0M285.8 89.4L297.2 91.3M334.1 82.5L340.5 81.1M325.2 33.8L336.0 31.1M336.0 31.1L342.1 32.0M342.1 32.0L348.1 32.9M348.1 32.9L354.5 32.0M354.5 32.0L358.0 26.4M358.0 26.4L361.5 20.9M361.5 20.9L369.1 22.7M388.2 24.6L395.8 25.5M409.2 33.8L416.2 41.3M203.1 158.9L206.3 151.9M206.3 151.9L209.5 145.0M209.5 145.0L216.5 138.5M216.5 138.5L226.0 132.0M226.0 132.0L234.3 130.1"/>
<path id="a5" d="M255.9 148.7L257.8 157.9M257.8 157.9L261.0 166.3M261.0 166.3L262.9 169.0M262.9 169.0L270.5 162.6M286.1 154.2L291.5 151.4M291.5 151.4L297.9 149.6M297.9 149.6L306.1 150.5M306.1 150.5L313.8 151.4M313.8 151.4L320.8 149.6M320.8 149.6L323.3 155.2M323.3 155.2L327.1 157.0M327.1 157.0L330.3 160.7M359.6 92.2L362.1 97.7M362.1 97.7L364.0 107.0M364.0 107.0L360.8 113.5M360.8 113.5L358.9 119.0M358.9 119.0L359.6 127.4M359.6 127.4L365.9 132.0M365.9 132.0L372.3 134.8M372.3 134.8L378.6 140.3M378.6 140.3L383.1 145.0M383.1 145.0L385.6 155.2M301.7 34.8L308.0 34.8M381.8 71.8L392.6 74.6M392.6 74.6L402.8 75.5M402.8 75.5L413.0 81.1M413.0 81.1L416.8 85.7M416.8 85.7L420.6 90.3M418.7 59.8L415.5 70.0M415.5 70.0L413.0 81.1M411.1 102.4L412.3 108.8M412.3 108.8L413.0 113.5M413.0 113.5L410.4 120.9M410.4 120.9L405.4 127.4M405.4 127.4L400.9 132.0M400.9 132.0L397.1 135.7M397.1 135.7L399.6 142.2M399.6 142.2L397.7 150.5M397.7 150.5L392.6 156.1"/>
<path id="t6" d="M352.4 34.7L348.9 36.1M368.0 28.4L366.7 32.3M358.3 61.9L358.8 65.1M315.0 46.5L317.9 49.0M383.4 45.9L383.5 50.9M349.5 60.9L345.7 57.9M342.1 33.1L339.7 35.5M223.6 126.8L219.2 126.8M267.9 103.1L264.4 101.9M363.2 56.5L365.2 59.5M378.9 64.1L373.9 62.9M272.5 77.4L268.4 75.7M411.7 45.9L407.7 49.4M354.7 45.0L352.0 47.2M361.8 61.0L359.8 58.4M326.5 54.7L327.1 51.6M359.0 68.8L362.0 72.4M267.9 103.1L270.1 98.5M293.0 78.0L292.4 74.4M236.2 117.1L239.4 120.4M342.3 45.8L343.1 42.7M221.4 137.7L219.5 133.6M373.9 62.9L376.7 60.1M239.4 120.4L241.9 122.8M310.3 49.2L312.2 52.4M344.0 76.6L342.0 81.4M371.3 43.4L370.4 40.6M352.4 34.7L354.2 38.7M279.6 100.3L284.3 101.3M317.9 49.0L315.1 50.7M302.7 43.8L298.8 43.0M373.9 62.9L375.8 67.6M283.1 86.9L282.4 90.7M327.5 36.6L326.7 41.2M352.0 57.1L354.2 55.1M364.9 34.8L366.7 32.3M290.8 71.4L290.2 67.6M347.1 73.0L345.1 69.8M355.4 65.1L358.8 65.1M365.4 64.2L361.8 61.0M361.1 47.3L360.8 42.5M275.7 86.7L277.6 83.0M233.8 121.4L232.5 117.6M271.6 69.8L268.6 72.0M291.9 41.1L292.1 36.6M385.2 38.3L386.9 42.9M364.9 34.8L362.0 33.8M225.0 129.3L221.6 131.1M341.2 63.1L337.8 61.7M329.8 53.3L331.9 50.5M330.5 41.7L330.1 44.5M232.9 133.3L228.0 133.3M265.6 97.7L265.6 92.8M322.5 46.7L325.9 45.2M294.0 97.8L293.1 94.4M265.6 97.7L270.1 98.5M336.2 33.2L339.7 35.5M363.2 56.5L360.8 53.4M223.6 133.5L219.5 133.6M347.1 73.0L348.4 70.3M383.3 181.8L378.9 184.4M227.3 121.3L223.0 119.4M393.1 46.1L391.4 49.2M282.5 65.0L287.9 65.0M396.7 45.9L400.4 43.4M304.2 50.7L307.0 47.5M340.5 84.2L336.7 82.1M287.2 69.6L290.8 71.4M271.6 69.8L271.7 73.8M279.6 100.3L275.8 104.3M233.8 121.4L230.7 123.3M412.2 39.6L409.2 41.8M413.9 48.1L416.0 50.9M376.7 37.2L379.2 38.6M360.8 42.5L363.0 40.5M371.3 43.4L373.2 45.5M338.5 38.7L334.5 36.9M293.7 58.1L293.0 62.3M357.0 38.8L355.7 36.1M356.1 41.4L357.8 43.7M348.3 47.6L345.0 51.2M232.9 133.3L235.8 134.7M286.1 81.8L289.3 82.0M291.9 41.1L290.5 44.1M309.8 35.1L307.3 37.4M197.4 159.4L200.8 160.8M292.2 89.2L295.1 90.6M390.5 43.4L386.9 42.9M365.4 38.6L363.0 40.5M319.7 46.1L322.5 46.7M334.9 58.8L332.2 57.8M339.0 41.9L336.1 40.9M376.7 37.2L380.0 34.5M400.4 43.4L400.8 47.5M338.5 38.7L339.7 35.5M239.4 120.4L236.2 124.5M255.7 82.3L253.0 84.4M297.1 103.4L294.3 101.2M290.1 93.5L293.1 94.4M349.1 32.3L346.7 34.4M377.7 32.4L379.1 29.3M239.9 129.5L239.5 126.4M247.2 127.9L247.5 132.0M312.1 43.6L315.0 46.5M299.7 37.7L296.2 35.0M227.3 121.3L226.5 125.1M381.8 37.3L379.2 38.6M318.3 54.2L322.2 55.6M284.9 97.8L287.4 94.7M293.0 78.0L289.3 82.0M412.0 51.3L407.5 55.2M205.0 149.2L209.7 150.3M280.2 88.3L282.4 90.7M273.0 81.1L272.5 77.4M358.3 61.9L361.6 64.4M337.5 86.4L333.0 83.1M223.6 126.8L220.2 123.0M356.4 47.2L353.3 49.6M289.3 82.0L291.6 85.2M337.1 56.2L334.9 58.8M374.7 56.7L371.4 57.9M311.5 55.3L307.9 54.3M299.7 37.7L298.8 43.0M381.8 37.3L380.0 34.5M345.0 51.2L344.2 48.6M367.7 73.4L364.7 70.4M319.7 46.1L321.0 42.7M354.7 45.0L351.5 44.0M388.4 38.8L386.9 42.9M288.3 90.3L287.4 94.7M271.2 104.6L267.9 103.1M287.9 65.0L290.2 67.6M397.0 42.2L398.3 38.7M336.5 78.5L336.7 82.1M388.4 38.8L385.2 38.3"/>
<path id="h6" d="M241.9 101.4L251.4 97.7M416.8 43.1L425.7 44.0M249.5 134.8L252.7 138.5M252.7 138.5L254.0 142.2M251.4 129.2L257.8 124.6M257.8 124.6L261.6 120.9M261.6 120.9L264.2 111.6M344.9 89.4L351.9 90.3M385.6 155.2L386.3 160.7M386.3 160.7L380.5 166.3M383.7 190.3L386.9 194.0M420.6 90.3L418.7 99.6M425.7 44.0L421.9 50.5M421.9 50.5L418.7 59.8M234.9 106.1L238.7 101.4M238.7 101.4L245.1 93.1M245.1 93.1L253.3 86.6M261.0 81.1L267.3 76.4M292.1 66.3L299.1 63.5M299.1 63.5L302.3 61.6M289.6 96.8L294.7 104.2M294.7 104.2L297.9 107.9M378.6 33.8L388.2 30.1M388.2 30.1L395.8 25.5M273.7 72.7L278.2 65.3M315.0 53.3L324.6 49.6M324.6 49.6L329.7 45.4M329.7 45.4L334.8 41.3M353.2 48.7L346.8 45.0M346.8 45.0L340.5 42.2M355.7 50.5L357.0 44.0M357.0 44.0L356.4 37.5M356.4 37.5L354.5 32.0"/>
<path id="a6" d=""/>
<path id="t7" d="M318.6 40.7L317.0 44.2M324.2 42.9L326.7 41.2M321.9 50.8L324.4 49.4M372.3 33.7L373.3 30.6M363.7 45.6L364.6 42.9M351.5 67.4L347.4 65.1M354.7 45.0L356.4 47.2M408.2 45.3L404.4 48.5M380.2 41.7L379.2 38.6M342.1 33.1L342.5 36.6M205.2 159.7L203.3 162.3M208.6 153.6L209.7 150.3M337.6 52.7L338.9 50.1M294.2 67.6L290.2 67.6M354.2 38.7L355.7 36.1M333.3 41.3L334.5 36.9M321.9 50.8L319.2 51.5M334.0 53.9L337.6 52.7M381.8 37.3L384.1 35.0M372.8 49.2L377.0 50.9M375.9 46.5L379.6 49.0M326.5 54.7L323.5 53.0M348.0 44.6L345.5 45.7M331.1 38.7L327.5 36.6M354.2 38.7L353.0 41.3M376.7 37.2L376.8 40.6M223.6 126.8L225.0 129.3M372.3 33.7L374.4 35.7M375.9 46.5L378.9 44.6M329.8 53.3L327.1 51.6M358.5 33.7L359.4 36.6M224.6 136.7L221.4 137.7M352.4 34.7L354.8 32.7M350.5 52.7L347.3 53.0M383.4 45.9L378.9 44.6M322.5 46.7L321.9 50.8M350.2 40.4L348.9 36.1M319.7 46.1L317.0 44.2M208.6 159.7L211.6 157.4M275.5 74.7L271.7 73.8M340.6 52.6L345.0 51.2M379.2 38.6L376.8 40.6M343.1 42.7L342.7 39.5M361.1 47.3L359.5 50.1M223.6 126.8L221.6 131.1M352.0 47.2L351.5 44.0M350.5 52.7L349.2 55.6M342.0 55.7L345.1 54.9M280.2 74.7L275.5 74.7M280.2 74.7L282.6 76.8M368.6 37.1L370.4 40.6M289.3 82.0L288.3 85.9M203.3 162.3L200.8 160.8M244.3 136.2L247.5 132.0M234.8 130.2L236.2 127.4M330.5 41.7L333.3 41.3M334.0 53.9L331.9 50.5M355.4 65.1L355.5 69.2M327.0 47.8L330.1 44.5M385.2 38.3L384.1 35.0M233.8 121.4L232.4 125.7M369.6 49.2L369.0 52.8M348.0 44.6L351.5 44.0M369.6 49.2L372.8 49.2M340.1 76.1L344.0 76.6M326.7 41.2L323.6 39.4M387.8 34.5L384.1 35.0M348.3 47.6L345.5 45.7M280.2 74.7L283.9 71.2M377.7 32.4L380.0 34.5M375.5 43.3L375.9 46.5M366.8 47.3L365.1 49.6M351.5 67.4L355.5 69.2M292.2 89.2L288.3 85.9M244.3 136.2L243.5 132.6M280.2 88.3L283.1 86.9M324.8 59.0L322.2 55.6M354.6 52.3L356.3 50.1M282.6 76.8L282.7 80.2M229.3 126.0L226.5 125.1M361.1 47.3L357.8 43.7M339.0 41.9L338.5 38.7M200.5 157.5L200.8 160.8M297.9 94.2L293.1 94.4M353.3 72.3L350.6 73.5M284.1 93.3L285.3 89.2M405.9 40.9L409.2 41.8M219.5 133.6L221.6 131.1M292.8 104.4L294.3 101.2M363.7 45.6L361.1 47.3M311.5 55.3L314.8 56.5M384.8 32.0L387.8 34.5M391.5 33.9L387.8 34.5M288.3 85.9L288.3 90.3M345.0 51.2L345.1 54.9M366.4 54.0L369.0 52.8M354.7 45.0L356.1 41.4M359.5 50.1L356.3 50.1M290.1 93.5L288.3 90.3M340.6 52.6L342.0 55.7M318.6 40.7L323.6 39.4M353.3 72.3L355.5 69.2M358.3 61.9L361.8 61.0M356.4 47.2L356.3 50.1M371.3 43.4L369.7 46.2M368.6 37.1L373.1 38.2M374.7 56.7L379.8 55.7M342.3 45.8L344.2 48.6M293.0 78.0L288.3 78.6M225.0 129.3L228.2 129.8M361.9 38.0L363.0 40.5M366.8 47.3L369.7 46.2M281.3 68.7L277.9 70.0M354.0 59.9L355.4 62.3M324.2 42.9L325.9 45.2M354.6 52.3L354.2 55.1M336.7 48.5L338.9 50.1M363.2 56.5L364.2 52.3M331.6 47.3L330.1 44.5M363.7 45.6L360.8 42.5M302.7 43.8L307.0 47.5M369.0 52.8L368.9 55.8M369.1 61.9L365.2 59.5M365.2 59.5L368.0 58.6M238.7 134.8L235.8 134.7M290.1 93.5L287.4 94.7M289.3 82.0L288.3 78.6M340.6 52.6L338.9 50.1M348.4 70.3L350.6 73.5M362.0 72.4L364.7 70.4M385.2 38.3L381.8 37.3M358.8 65.1L361.6 64.4M318.3 54.2L319.2 51.5M349.5 60.9L352.0 57.1M377.7 32.4L373.3 30.6M345.8 37.3L345.8 41.3M411.7 45.9L415.5 43.5M315.1 50.7L312.2 52.4M372.3 33.7L370.0 31.2M345.8 37.3L342.5 36.6M342.3 45.8L345.5 45.7M236.2 127.4L236.2 124.5M315.1 50.7L315.3 53.6M318.5 57.8L322.2 55.6M372.8 49.2L373.2 45.5M327.5 36.6L323.6 39.4M356.9 56.8L354.0 59.9M373.1 38.2L374.4 35.7M408.2 45.3L407.7 49.4M324.8 59.0L327.8 58.9M348.7 75.6L350.6 73.5M344.2 48.6L345.5 45.7M330.1 44.5L332.8 44.1M285.3 89.2L282.4 90.7M275.5 74.7L277.9 70.0M347.1 73.0L348.7 75.6M347.3 53.0L345.1 54.9M339.5 47.0L342.3 45.8M368.6 37.1L365.4 38.6M363.2 56.5L359.8 58.4M355.4 65.1L355.4 62.3M290.8 71.4L294.2 67.6M234.8 130.2L235.8 134.7M377.7 32.4L374.4 35.7M346.7 34.4L348.9 36.1M350.5 52.7L354.2 55.1M373.3 30.6L370.0 31.2M236.2 127.4L239.5 126.4M332.2 57.8L334.0 53.9M350.2 40.4L353.0 41.3M331.1 38.7L332.1 35.1M239.9 129.5L236.2 127.4M364.9 34.8L365.4 38.6M358.5 33.7L355.7 36.1M352.0 62.0L355.4 62.3M229.3 126.0L228.2 129.8M358.3 61.9L359.8 58.4M341.2 63.1L341.3 66.8M299.7 33.1L296.2 35.0M363.2 56.5L366.4 54.0M340.0 72.7L343.4 72.3M388.4 38.8L387.8 34.5M327.0 47.8L325.9 45.2M357.0 38.8L354.2 38.7M375.9 46.5L373.2 45.5M231.7 129.1L234.8 130.2M404.4 48.5L407.7 49.4M337.1 56.2L337.6 52.7M369.1 61.9L373.9 62.9M231.7 129.1L228.2 129.8M352.9 76.9L350.6 73.5M327.0 47.8L327.1 51.6M326.5 54.7L324.8 59.0M290.8 97.2L294.0 97.8M339.5 47.0L338.9 50.1M364.6 42.9L368.1 42.2M360.8 53.4L359.5 50.1M352.4 34.7L355.7 36.1M376.7 60.1L379.8 55.7M318.5 57.8L321.0 59.4M356.9 56.8L359.8 58.4M238.7 134.8L243.5 132.6M303.8 36.7L302.0 40.4M363.2 30.8L366.7 32.3M345.7 57.9L345.1 54.9M341.2 63.1L344.7 63.4M352.0 57.1L354.0 59.9M358.5 33.7L356.2 30.0M375.9 46.5L372.8 49.2M317.9 49.0L319.2 51.5M323.5 53.0L321.9 50.8M286.1 81.8L288.3 85.9M314.8 56.5L313.3 59.9M351.5 44.0L353.0 41.3M356.1 73.7L355.5 69.2M201.0 153.4L204.2 152.3M385.2 38.3L383.2 42.5M349.5 60.9L347.4 65.1M356.2 30.0L359.5 29.4M295.7 39.6L299.7 37.7M205.2 159.7L208.6 159.7M327.0 47.8L324.4 49.4"/>
<path id="h7" d="M200.6 162.6L203.1 158.9M203.1 158.9L205.0 153.3M205.0 153.3L209.5 143.1M209.5 143.1L215.2 136.6M215.2 136.6L225.4 131.1M225.4 131.1L231.1 127.4M231.1 127.4L232.4 118.1M232.4 118.1L234.9 107.0M234.9 107.0L241.9 101.4M251.4 97.7L261.0 95.0M261.0 95.0L270.5 92.2M270.5 92.2L278.8 90.3M278.8 90.3L285.8 89.4M285.8 89.4L290.9 83.8M290.9 83.8L294.7 78.3M294.7 78.3L299.1 70.0M299.1 70.0L302.3 61.6M302.3 61.6L308.7 58.8M308.7 58.8L316.3 57.0M316.3 57.0L324.6 50.5M324.6 50.5L332.2 48.7M332.2 48.7L340.5 44.0M340.5 44.0L348.1 46.8M348.1 46.8L353.2 48.7M353.2 48.7L359.6 45.9M359.6 45.9L367.8 39.4M367.8 39.4L377.4 39.4M377.4 39.4L388.2 43.1M388.2 43.1L394.5 45.9M394.5 45.9L400.9 47.7M400.9 47.7L408.5 45.9M408.5 45.9L416.8 43.1M231.1 127.4L238.7 130.1M238.7 130.1L245.1 132.9M245.1 132.9L249.5 134.8M249.5 134.8L251.4 129.2M264.2 111.6L268.0 104.2M268.0 104.2L275.0 97.7M275.0 97.7L282.0 92.2M282.0 92.2L285.8 89.4M295.3 34.8L300.4 38.5M300.4 38.5L304.2 41.3M304.2 41.3L310.0 46.8M310.0 46.8L315.0 53.3M315.0 53.3L320.1 59.8M320.1 59.8L323.9 64.9M323.9 64.9L327.8 70.0M327.8 70.0L334.1 76.4M334.1 76.4L340.5 81.1M340.5 81.1L344.9 89.4M380.5 166.3L381.8 177.4M381.8 177.4L383.1 184.8M383.1 184.8L383.7 190.3M295.3 34.8L301.7 34.8M308.0 34.8L316.3 37.5M316.3 37.5L322.0 38.5M322.0 38.5L329.0 40.3M329.0 40.3L334.8 41.3M334.8 41.3L340.5 43.1M340.5 43.1L348.1 49.6M348.1 49.6L353.2 50.5M353.2 50.5L357.0 58.8M357.0 58.8L363.4 64.4M363.4 64.4L371.0 67.2M371.0 67.2L381.8 71.8M367.8 39.4L365.9 32.0M365.9 32.0L361.5 20.9M353.2 50.5L351.9 57.9M351.9 57.9L353.2 63.9M353.2 63.9L354.5 70.0M354.5 70.0L350.0 74.6M350.0 74.6L340.5 81.1M253.3 86.6L261.0 81.1M267.3 76.4L273.7 72.7M273.7 72.7L283.2 68.1M283.2 68.1L292.1 66.3M285.8 89.4L289.6 96.8M367.8 39.4L373.2 36.6M373.2 36.6L378.6 33.8"/>
<path id="a7" d=""/>
<path id="v0" d="M303.2 149.4L302.9 149.4L302.3 149.5L301.3 149.6L300.1 149.7L299.1 149.5L298.2 149.0L297.6 148.2L297.2 147.0L296.6 146.3L295.8 145.9L294.8 145.9L293.6 146.3L292.8 146.2L292.3 145.8L292.2 144.9L292.4 143.5L292.6 142.5L292.7 141.9L292.7 141.5M303.2 149.4L303.3 149.8L303.4 150.6L303.5 151.9L303.7 153.6L304.1 155.1L304.8 156.4L305.6 157.5L306.6 158.4L307.4 159.1L307.9 159.6L308.2 159.8M308.2 159.8L308.4 159.6L308.8 159.1L309.3 158.3L310.1 157.3L310.8 157.0L311.4 157.2L312.0 158.1L312.5 159.6L313.3 160.7L314.3 161.4L315.6 161.7L317.2 161.5L318.3 161.4L319.1 161.4L319.5 161.3M446.7 123.9L446.5 117.8M446.7 123.9L446.7 124.2L446.6 124.9L446.5 125.9L446.3 127.2L446.2 128.5L446.3 129.8L446.6 131.1L446.9 132.3L447.2 133.3L447.4 133.9L447.5 134.2M474.5 96.6L474.2 96.5L473.6 96.3L472.6 96.0L471.4 95.7L470.3 95.7L469.5 96.2L468.8 97.0L468.3 98.3L467.9 99.3L467.7 99.9L467.6 100.2M297.1 169.2L297.1 169.5L297.3 170.1L297.5 171.0L297.7 172.2L297.9 173.4L298.1 174.7L298.3 175.9L298.4 177.2L298.5 178.1L298.6 178.8L298.6 179.1M354.1 134.2L354.4 134.0L355.1 133.5L356.1 132.9L357.5 132.0L358.8 131.3L360.2 130.6L361.5 130.1L362.8 129.7L363.8 129.4L364.5 129.2L364.8 129.1M355.7 98.0L355.7 97.8L355.7 97.2L355.6 96.3L355.6 95.1L355.6 93.9L355.5 92.7L355.4 91.5L355.3 90.3L355.5 89.4L356.0 88.7L356.9 88.4L358.1 88.3L359.1 88.3L359.7 88.3L360.0 88.2M326.8 130.0L322.6 127.8M326.8 130.0L327.0 130.2L327.5 130.6L328.2 131.1L329.1 131.9L329.8 132.2L330.5 132.0L331.0 131.3L331.4 130.1L331.8 129.2L332.0 128.6L332.1 128.3M326.8 130.0L326.6 130.3L326.3 130.9L325.8 131.7L325.1 132.8L324.6 133.9L324.4 135.1L324.3 136.2L324.5 137.4L324.7 138.3L324.8 138.9L324.8 139.2M322.6 127.8L322.3 127.7L321.7 127.4L320.8 126.9L319.6 126.3L318.5 126.0L317.4 126.1L316.4 126.4L315.5 127.1L314.8 128.0L314.2 129.0L313.8 130.2L313.6 131.5L313.5 132.5L313.4 133.2L313.3 133.5M411.7 94.5L411.5 94.2L411.1 93.8L410.5 93.1L409.6 92.2L408.8 91.4L407.8 90.6L406.8 90.0L405.6 89.4L404.6 89.1L403.6 89.2L402.7 89.6L401.8 90.4L400.8 90.9L399.8 91.0L398.6 90.8L397.4 90.2L396.1 89.7L395.0 89.1L393.8 88.6L392.7 88.0L391.9 87.5L391.3 87.2L391.0 87.1M363.7 146.1L357.0 146.8M411.0 104.9L411.0 105.2L410.8 105.9L410.6 106.8L410.4 108.1L409.9 109.1L409.1 109.8L408.2 110.3L406.9 110.6L406.0 110.7L405.4 110.9L405.1 110.9M384.7 72.6L384.7 72.9L384.8 73.6L384.8 74.6L384.9 76.0L385.2 77.2L385.6 78.4L386.3 79.4L387.2 80.3L388.1 80.9L389.0 81.0L390.0 80.8L391.0 80.2L391.7 79.7L392.2 79.4L392.4 79.3M348.8 116.2L348.7 115.9L348.5 115.2L348.3 114.3L347.9 113.1L347.7 111.9L347.4 110.6L347.3 109.4L347.1 108.1L346.9 106.9L346.4 105.7L345.9 104.6L345.2 103.6L344.7 102.8L344.3 102.3L344.1 102.0M316.5 112.0L319.3 117.6M416.0 132.2L416.3 132.2L416.8 132.3L417.7 132.5L418.9 132.7L420.1 132.6L421.2 132.3L422.4 131.6L423.6 130.7L424.7 130.3L425.7 130.5L426.6 131.2L427.4 132.4L428.0 133.3L428.4 133.9L428.6 134.2M374.9 153.0L377.0 148.3M405.1 110.9L408.5 114.8M331.9 99.1L332.0 99.4L332.4 100.0L332.9 100.9L333.5 102.1L334.0 103.3L334.3 104.5L334.5 105.7L334.5 106.9L334.7 108.1L335.1 109.2L335.7 110.3L336.5 111.4L337.5 112.3L338.5 113.0L339.7 113.5L340.9 113.8L342.0 114.3L342.9 115.1L343.6 116.2L344.2 117.5L344.5 118.5L344.8 119.2L344.9 119.5M251.6 158.3L248.2 153.7M470.7 114.7L470.4 114.5L470.0 114.0L469.2 113.3L468.3 112.3L467.2 111.5L466.0 110.8L464.7 110.1L463.3 109.6L462.5 108.9L462.3 108.1L462.8 107.2L463.8 106.2L464.8 105.1L465.6 104.1L466.2 103.0L466.8 101.9L467.2 101.1L467.4 100.5L467.6 100.2M374.5 112.3L374.5 112.0L374.5 111.3L374.4 110.2L374.4 108.8L374.3 107.4L374.3 106.1L374.2 104.9L374.0 103.7L374.2 102.5L374.6 101.4L375.3 100.4L376.2 99.3L377.2 98.3L378.3 97.3L379.3 96.3L380.4 95.3L381.2 94.6L381.8 94.1L382.0 93.9M336.2 124.6L332.1 128.3M336.2 124.6L340.8 123.9M284.3 161.2L284.0 161.2L283.2 161.2L282.1 161.2L280.6 161.3L279.5 161.6L278.9 162.2L278.6 163.1L278.8 164.3L278.9 165.2L279.0 165.8L279.0 166.1M292.7 141.5L292.5 141.2L292.1 140.6L291.4 139.7L290.5 138.6L289.9 137.3L289.6 136.1L289.6 134.8L289.8 133.5L289.8 132.2L289.6 130.9L289.2 129.6L288.5 128.3L288.1 126.9L288.0 125.5L288.3 124.1L288.9 122.7L289.1 121.4L289.1 120.2L288.8 119.1L288.2 118.2L287.7 117.4L287.4 116.9L287.2 116.7M385.1 88.8L384.9 88.6L384.4 88.1L383.7 87.5L382.7 86.6L381.7 85.7L380.8 84.9L379.9 84.1L379.1 83.2L378.5 82.3L378.1 81.2L378.1 80.1L378.3 78.8L378.1 78.0L377.4 77.7L376.4 77.9L375.0 78.6L373.9 79.4L373.2 80.4L372.8 81.5L372.8 82.8L372.7 84.0L372.4 85.2L372.0 86.4L371.5 87.5L370.8 88.3L369.8 88.9L368.6 89.2L367.3 89.2L366.1 88.9L365.0 88.3L364.0 87.3L363.2 86.0L362.4 85.3L361.8 85.1L361.2 85.6L360.7 86.6L360.3 87.4L360.1 88.0L360.0 88.2M418.6 80.0L418.9 80.0L419.6 80.1L420.6 80.3L421.9 80.5L423.2 80.8L424.5 81.1L425.6 81.5L426.8 82.0L427.9 82.3L429.1 82.5L430.2 82.5L431.4 82.3L432.3 82.6L432.9 83.2L433.2 84.3L433.2 85.8L433.1 87.2L432.9 88.5L432.5 89.8L432.1 91.0L431.8 92.3L431.7 93.5L431.9 94.7L432.2 96.0L432.1 96.8L431.6 97.3L430.7 97.5L429.4 97.3L428.4 97.4L427.8 97.9L427.5 98.8L427.6 100.0L427.6 101.0L427.6 101.6L427.6 101.9M418.6 80.0L418.5 80.3L418.3 80.8L418.0 81.7L417.5 82.9L417.5 83.8L417.9 84.6L418.6 85.2L419.8 85.6L420.6 86.0L421.2 86.2L421.5 86.3M260.8 170.9L261.0 166.3M340.8 123.9L344.9 119.5M263.3 150.5L260.5 146.5M263.3 150.5L263.5 150.3L264.0 150.0L264.7 149.5L265.7 148.8L266.3 148.0L266.6 147.1L266.6 146.0L266.3 144.8L266.3 143.7L266.7 142.9L267.5 142.2L268.7 141.7L269.7 141.7L270.4 142.2L271.0 143.1L271.4 144.5L271.8 145.9L272.2 147.2L272.5 148.5L272.7 149.8L273.2 150.6L274.0 150.9L274.9 150.6L276.1 149.9L276.9 149.0L277.4 147.9L277.5 146.5L277.3 145.0L277.1 143.8L277.0 143.1L276.9 142.7M430.3 123.4L430.3 123.0L430.3 122.4L430.2 121.3L430.2 120.0L430.4 118.7L430.9 117.4L431.6 116.2L432.5 115.0L433.2 114.1L433.7 113.5L433.9 113.2M427.6 101.9L426.1 106.5M391.6 128.4L386.9 129.3M267.1 153.6L266.9 153.8L266.4 154.1L265.7 154.7L264.7 155.5L264.0 156.3L263.3 157.3L262.9 158.4L262.5 159.6L262.3 160.5L262.2 161.1L262.1 161.4M323.9 158.6L325.5 165.2M332.1 128.3L330.7 122.0"/>
<path id="v1" d="M303.2 149.4L303.3 149.0L303.5 148.3L303.7 147.1L304.1 145.7L304.6 144.8L305.2 144.6L305.9 145.0L306.8 146.0L307.8 146.8L308.9 147.4L310.1 147.8L311.5 148.0L312.4 147.8L313.0 147.3L313.2 146.4L312.9 145.0L313.1 144.3L313.7 144.0L314.6 144.2L315.9 145.0L316.9 145.5L317.6 145.9L317.9 146.1M375.7 124.6L375.9 124.2L376.2 123.6L376.6 122.5L377.2 121.2L377.3 120.2L376.9 119.6L376.1 119.3L374.8 119.4L373.5 119.2L372.2 118.6L370.9 117.7L369.7 116.4L368.8 115.2L368.4 113.9L368.4 112.7L368.8 111.4L369.4 110.6L370.3 110.3L371.3 110.6L372.6 111.3L373.6 111.8L374.2 112.1L374.5 112.3M375.7 124.6L375.5 124.7L374.9 124.8L374.1 125.1L373.0 125.5L371.9 125.7L370.8 125.7L369.6 125.6L368.5 125.3L367.5 125.4L366.7 125.8L366.0 126.5L365.5 127.5L365.2 128.3L364.9 128.8L364.8 129.1M446.7 123.9L447.0 124.1L447.5 124.6L448.4 125.2L449.5 126.1L450.4 126.5L451.1 126.4L451.7 125.8L452.0 124.6L452.3 123.8L452.5 123.2L452.6 122.9M442.0 116.0L442.0 115.7L442.1 115.1L442.1 114.1L442.3 112.8L442.4 111.5L442.6 110.2L442.9 108.9L443.2 107.6L443.8 106.5L444.7 105.6L445.9 104.9L447.4 104.4L448.6 104.0L449.3 103.7L449.7 103.5M444.6 138.5L447.5 134.2M474.5 96.6L476.9 102.2M474.5 96.6L476.9 91.0M396.4 100.7L396.7 100.9L397.2 101.2L397.9 101.6L399.0 102.2L399.8 103.0L400.4 104.0L400.8 105.1L400.9 106.4L401.3 107.6L401.9 108.5L402.6 109.3L403.6 110.0L404.3 110.4L404.8 110.8L405.1 110.9M398.4 145.9L398.3 146.1L398.1 146.7L397.8 147.5L397.3 148.5L397.0 149.7L396.8 150.8L396.7 152.1L396.6 153.4L396.4 154.5L395.8 155.4L395.0 156.0L394.0 156.5L393.2 156.9L392.7 157.1L392.4 157.2M402.0 69.9L401.9 70.3L401.6 71.1L401.2 72.2L400.7 73.7L400.4 75.2L400.2 76.6L400.1 77.9L400.2 79.2L400.3 80.2L400.3 80.8L400.4 81.1M402.0 69.9L401.7 69.8L401.0 69.5L400.0 69.0L398.6 68.4L397.4 68.1L396.3 68.2L395.4 68.8L394.6 69.6L393.9 70.6L393.2 71.5L392.4 72.4L391.7 73.4L391.3 74.4L391.2 75.4L391.3 76.5L391.8 77.6L392.1 78.4L392.3 79.0L392.4 79.3M357.0 146.8L353.1 144.2M357.0 146.8L357.1 146.5L357.4 146.0L357.8 145.3L358.3 144.2L358.8 143.2L359.4 142.0L360.1 140.8L360.7 139.5L361.2 138.6L361.5 137.9L361.7 137.6M346.0 136.4L341.9 139.7M346.0 136.4L345.8 136.2L345.3 135.8L344.7 135.2L343.8 134.4L343.1 133.5L342.6 132.5L342.2 131.4L342.1 130.2L341.9 129.0L341.7 127.8L341.5 126.7L341.2 125.6L341.0 124.7L340.9 124.1L340.8 123.9M319.5 161.3L319.5 161.6L319.6 162.3L319.6 163.2L319.7 164.5L319.5 165.4L318.9 166.1L318.0 166.4L316.8 166.4L315.7 166.6L314.8 167.1L314.1 167.9L313.5 168.9L313.0 170.0L312.5 171.2L312.1 172.5L311.8 173.9L311.4 175.3L311.1 176.7L310.7 178.1L310.3 179.4L310.0 180.4L309.9 181.1L309.8 181.5M371.3 141.1L371.1 140.8L370.7 140.2L370.0 139.3L369.2 138.2L368.7 137.0L368.6 135.9L368.8 134.8L369.4 133.7L369.5 132.7L369.1 131.8L368.2 131.0L366.8 130.2L365.8 129.7L365.1 129.3L364.8 129.1M316.5 112.0L316.2 112.0L315.6 112.1L314.8 112.2L313.6 112.3L312.5 112.5L311.4 112.8L310.2 113.1L309.1 113.5L308.3 113.8L307.8 114.0L307.5 114.1M316.5 112.0L316.3 111.7L316.0 111.1L315.5 110.2L314.8 109.0L314.4 107.7L314.3 106.3L314.5 104.9L315.0 103.4L315.7 102.3L316.6 101.5L317.7 101.1L318.9 101.0L319.9 100.9L320.5 100.9L320.8 100.9M416.0 132.2L415.4 138.2M405.1 110.9L404.7 111.1L404.1 111.3L403.2 111.8L401.9 112.3L400.7 112.9L399.6 113.6L398.6 114.3L397.7 115.0L396.7 115.7L395.7 116.3L394.7 116.9L393.6 117.5L392.8 117.9L392.2 118.2L392.0 118.4M397.3 127.5L391.6 128.4M331.9 99.1L337.3 95.9M331.9 99.1L330.7 94.1M428.6 134.2L428.4 134.4L428.1 134.9L427.6 135.6L426.9 136.6L426.2 137.6L425.5 138.6L424.7 139.6L424.0 140.6L423.2 141.7L422.5 142.9L421.9 144.2L421.2 145.6L421.1 146.6L421.5 147.3L422.4 147.5L423.8 147.4L425.2 147.2L426.6 146.8L427.9 146.4L429.1 145.8L430.0 145.3L430.6 145.0L430.9 144.9M251.6 158.3L246.9 159.4M251.6 158.3L251.9 158.5L252.4 158.9L253.2 159.4L254.2 160.2L255.0 161.1L255.5 162.1L255.8 163.3L255.8 164.6L256.2 165.6L256.8 166.2L257.8 166.5L259.1 166.4L260.0 166.4L260.6 166.3L261.0 166.3M470.7 114.7L476.0 120.1M379.3 111.0L374.5 112.3M337.1 129.2L336.2 124.6M384.7 152.3L384.9 152.5L385.2 153.0L385.7 153.8L386.4 154.9L387.2 155.7L388.1 156.3L389.2 156.7L390.5 156.9L391.4 157.1L392.1 157.2L392.4 157.2M392.4 157.2L394.5 162.5M412.5 63.1L412.2 63.1L411.4 63.1L410.3 63.2L408.7 63.3L407.7 63.7L407.0 64.5L406.8 65.7L407.0 67.2L407.2 68.4L407.3 69.1L407.3 69.5M292.7 141.5L293.0 141.3L293.6 140.9L294.4 140.4L295.5 139.6L296.6 138.9L297.7 138.4L298.8 137.9L299.9 137.4L300.4 136.9L300.5 136.2L300.0 135.4L299.0 134.5L298.2 133.3L297.7 132.1L297.3 130.7L297.1 129.1L297.3 127.9L297.8 127.1L298.7 126.8L299.8 126.8L300.7 126.5L301.4 125.9L301.8 124.9L302.0 123.6L302.2 122.3L302.4 121.1L302.5 119.8L302.6 118.6L303.1 117.9L303.8 117.6L304.9 117.7L306.3 118.3L307.7 118.8L309.2 119.0L310.7 119.0L312.3 118.9L313.8 118.7L315.2 118.5L316.5 118.3L317.6 118.0L318.4 117.8L319.0 117.6L319.3 117.6M269.7 177.0L264.5 176.2M432.4 103.9L427.6 101.9M391.0 87.1L391.3 86.9L391.8 86.5L392.5 86.0L393.4 85.3L394.0 84.5L394.2 83.5L393.9 82.4L393.3 81.1L392.9 80.2L392.6 79.6L392.4 79.3M418.6 80.0L418.4 79.7L418.1 79.2L417.5 78.4L416.8 77.4L415.9 76.5L415.0 76.0L413.9 75.6L412.7 75.5L411.9 75.2L411.4 74.5L411.3 73.6L411.5 72.4L411.4 71.4L411.0 70.7L410.2 70.2L409.0 69.9L408.2 69.7L407.6 69.6L407.3 69.5M263.3 150.5L263.0 150.5L262.4 150.6L261.5 150.8L260.2 150.9L259.0 151.2L257.7 151.5L256.4 152.0L255.1 152.5L253.8 152.9L252.6 153.2L251.3 153.4L250.1 153.5L249.2 153.6L248.5 153.7L248.2 153.7M430.3 123.4L424.3 120.1M260.5 125.0L260.8 124.9L261.6 124.7L262.7 124.4L264.2 124.0L265.7 123.6L267.3 123.2L268.8 122.8L270.4 122.3L271.9 121.8L273.3 121.3L274.6 120.8L275.8 120.3L276.7 120.2L277.3 120.6L277.6 121.3L277.6 122.5L277.4 123.6L277.0 124.6L276.4 125.5L275.6 126.3L275.0 127.2L274.6 128.2L274.3 129.3L274.2 130.5L274.3 131.7L274.4 132.8L274.7 134.0L275.1 135.2L275.4 136.4L275.8 137.8L276.1 139.1L276.4 140.5L276.7 141.6L276.8 142.3L276.9 142.7M426.1 106.5L426.3 106.7L426.7 107.1L427.4 107.8L428.2 108.6L429.2 109.4L430.2 110.3L431.2 111.1L432.3 112.0L433.1 112.6L433.7 113.0L433.9 113.2M239.5 82.1L239.2 82.3L238.6 82.8L237.8 83.5L236.7 84.4L235.5 85.2L234.3 85.8L232.9 86.3L231.6 86.7L230.3 87.0L229.0 87.4L227.8 87.8L226.7 88.2L226.0 88.8L225.7 89.7L225.8 90.7L226.4 92.0L226.9 93.2L227.5 94.5L228.0 95.7L228.6 96.8L228.6 97.8L228.2 98.5L227.3 99.0L226.0 99.3L225.0 99.9L224.3 100.7L224.0 101.9L224.0 103.2L223.8 104.7L223.4 106.3L222.7 108.0L221.9 109.8L221.0 111.2L220.0 112.1L218.9 112.5L217.6 112.5L216.7 112.8L216.0 113.5L215.5 114.4L215.3 115.7L214.8 116.7L214.0 117.4L212.8 117.9L211.3 118.1L210.2 118.6L209.5 119.4L209.2 120.6L209.3 122.0L209.0 123.2L208.4 124.1L207.6 124.7L206.4 125.0L205.5 125.7L204.9 126.7L204.4 128.1L204.3 129.8L204.1 131.4L203.9 132.9L203.6 134.4L203.3 135.7L203.1 137.1L203.0 138.6L202.9 140.2L202.9 142.0L203.3 143.5L204.1 144.9L205.3 146.0L206.8 147.0L208.2 147.4L209.5 147.0L210.7 146.1L211.7 144.5L212.9 143.1L214.1 141.9L215.5 140.9L216.9 140.2L218.0 139.6L218.7 139.2L219.1 139.0M255.9 53.0L255.0 48.3M248.2 153.7L246.4 147.4M261.0 166.3L262.1 161.4M383.6 23.6L389.6 23.8"/>
<path id="v2" d="M308.2 159.8L308.1 160.1L308.0 160.7L307.8 161.6L307.6 162.7L307.1 163.7L306.3 164.5L305.2 165.1L303.9 165.6L302.5 166.1L301.3 166.7L300.0 167.3L298.9 168.1L298.0 168.6L297.4 169.0L297.1 169.2M375.7 124.6L375.8 124.9L375.9 125.5L376.0 126.5L376.2 127.8L376.7 128.9L377.4 129.7L378.3 130.4L379.5 130.9L380.7 131.1L382.0 131.1L383.4 130.7L384.8 130.1L385.8 129.7L386.5 129.4L386.9 129.3M446.5 117.8L442.0 116.0M446.5 117.8L446.6 117.5L446.8 116.9L447.0 116.1L447.4 114.9L447.9 113.9L448.6 113.0L449.5 112.3L450.6 111.7L451.7 111.5L452.8 111.5L453.8 111.9L454.7 112.5L455.7 113.3L456.8 114.0L457.9 114.8L459.1 115.7L460.3 116.3L461.5 116.7L462.8 116.9L464.0 116.8L465.2 116.6L466.4 116.4L467.6 116.0L468.9 115.5L469.8 115.1L470.4 114.8L470.7 114.7M442.0 116.0L441.7 116.2L441.1 116.4L440.2 116.8L439.0 117.2L437.9 117.3L436.9 117.0L436.0 116.2L435.2 115.0L434.6 114.1L434.2 113.5L433.9 113.2M391.7 106.5L392.0 106.4L392.6 106.4L393.5 106.3L394.8 106.1L395.7 105.7L396.3 105.0L396.6 104.0L396.5 102.7L396.5 101.7L396.4 101.0L396.4 100.7M396.4 100.7L396.2 100.5L395.8 100.1L395.2 99.5L394.3 98.6L393.5 98.2L392.8 98.3L392.0 98.7L391.3 99.7L390.4 100.2L389.4 100.3L388.3 100.1L387.0 99.4L386.2 98.7L385.7 97.8L385.7 96.9L386.1 95.8L386.1 94.9L385.7 94.3L384.9 94.0L383.8 94.0L382.9 93.9L382.3 93.9L382.0 93.9M297.1 169.2L296.9 168.8L296.7 168.0L296.2 166.9L295.7 165.3L295.1 164.4L294.5 164.1L293.9 164.5L293.3 165.6L292.5 166.3L291.4 166.7L290.1 166.7L288.6 166.4L287.4 165.9L286.4 165.1L285.6 164.2L285.1 163.0L284.7 162.1L284.5 161.5L284.3 161.2M354.1 134.2L353.8 134.5L353.4 135.0L352.7 135.8L351.7 136.9L350.8 137.6L349.8 137.8L348.7 137.7L347.6 137.2L346.8 136.8L346.3 136.5L346.0 136.4M354.1 134.2L354.2 134.5L354.5 135.0L354.9 135.9L355.4 137.0L355.6 138.2L355.5 139.4L355.0 140.7L354.2 142.1L353.7 143.2L353.3 143.8L353.1 144.2M322.6 127.8L322.7 127.4L322.9 126.5L323.3 125.2L323.7 123.4L324.0 121.8L324.2 120.3L324.2 119.0L324.0 117.9L323.6 117.1L322.9 116.7L322.0 116.7L320.9 117.0L320.1 117.3L319.6 117.5L319.3 117.6M454.0 149.1L453.8 148.9L453.5 148.4L453.0 147.6L452.3 146.6L451.9 145.6L451.8 144.5L452.0 143.5L452.5 142.4L452.8 141.4L452.8 140.3L452.7 139.1L452.3 137.9L451.8 136.9L451.1 136.1L450.2 135.4L449.1 135.0L448.3 134.6L447.7 134.4L447.5 134.2M402.0 69.9L407.3 69.5M319.5 161.3L323.9 158.6M348.8 116.2L352.5 119.1M348.8 116.2L344.9 119.5M416.0 132.2L415.8 131.8L415.4 131.0L414.8 129.8L414.1 128.2L413.3 127.2L412.5 127.0L411.8 127.4L411.0 128.5L410.2 129.1L409.3 129.2L408.3 128.8L407.2 127.9L406.2 127.6L405.4 127.7L404.7 128.4L404.2 129.6L403.7 130.5L403.5 131.1L403.3 131.4M370.9 155.6L374.9 153.0M374.9 153.0L375.0 153.3L375.0 153.9L375.1 154.8L375.3 156.0L375.7 156.8L376.5 157.2L377.5 157.3L378.8 157.0L380.0 156.5L381.1 155.8L382.2 155.0L383.2 153.9L384.0 153.1L384.5 152.5L384.7 152.3M353.1 144.2L352.9 144.6L352.5 145.4L351.9 146.6L351.1 148.1L350.8 149.5L351.0 150.6L351.7 151.5L352.8 152.1L353.9 152.9L354.8 153.7L355.7 154.6L356.4 155.7L357.0 156.7L357.5 157.9L357.9 159.1L358.1 160.4L358.7 161.3L359.6 162.0L360.8 162.4L362.4 162.5L363.6 162.6L364.4 162.7L364.8 162.7M428.6 134.2L428.9 134.1L429.5 134.0L430.3 133.9L431.5 133.6L432.7 133.2L433.9 132.7L435.0 132.0L436.2 131.2L436.8 130.4L436.8 129.7L436.1 129.1L434.8 128.5L433.6 127.9L432.7 127.0L431.9 126.1L431.2 125.0L430.8 124.2L430.4 123.6L430.3 123.4M355.7 113.8L352.5 119.1M352.5 119.1L352.7 119.4L353.2 119.9L353.8 120.6L354.6 121.6L355.4 122.1L356.4 122.1L357.3 121.7L358.3 120.7L359.0 120.1L359.5 119.6L359.8 119.4M384.7 152.3L384.7 151.9L384.8 151.3L384.8 150.3L384.8 149.0L385.0 147.8L385.5 146.7L386.3 145.8L387.3 145.0L387.9 144.1L388.0 143.1L387.7 142.0L386.9 140.8L386.4 139.6L386.2 138.4L386.2 137.1L386.4 135.9L386.6 134.6L386.7 133.4L386.8 132.2L386.9 131.0L386.9 130.1L386.9 129.6L386.9 129.3M284.3 161.2L284.6 161.2L285.2 161.1L286.1 161.0L287.2 160.8L288.2 160.5L289.1 159.8L289.8 158.9L290.3 157.8L290.4 156.9L290.0 156.1L289.2 155.4L287.9 154.9L287.0 154.3L286.6 153.4L286.6 152.4L287.0 151.2L287.0 150.1L286.7 149.1L286.1 148.2L285.1 147.4L284.3 146.8L283.8 146.4L283.6 146.2M269.7 177.0L268.7 182.8M269.7 177.0L270.0 176.9L270.6 176.7L271.5 176.3L272.7 175.8L273.9 175.6L275.1 175.7L276.3 176.1L277.6 176.9L278.8 177.5L280.1 178.0L281.5 178.4L282.8 178.6L283.9 178.4L284.8 177.9L285.4 176.9L285.8 175.5L285.8 174.3L285.4 173.2L284.6 172.3L283.5 171.6L282.4 170.8L281.5 169.9L280.7 168.9L280.0 167.8L279.5 166.9L279.2 166.4L279.0 166.1M324.0 151.8L324.3 151.8L325.0 151.7L325.9 151.6L327.2 151.4L328.2 151.6L328.8 152.1L329.1 152.9L329.0 154.1L328.7 155.1L328.0 156.0L327.1 156.9L325.8 157.6L324.8 158.1L324.2 158.5L323.9 158.6M391.0 87.1L385.1 88.8M385.1 88.8L382.0 93.9M357.1 107.9L357.3 107.6L357.6 107.1L358.2 106.2L358.9 105.1L359.7 103.9L360.6 102.7L361.5 101.4L362.6 100.2L363.6 99.0L364.4 97.8L365.1 96.6L365.6 95.5L365.8 94.7L365.5 94.2L364.7 93.9L363.5 93.8L362.5 93.4L361.7 92.7L361.0 91.7L360.6 90.3L360.3 89.3L360.1 88.6L360.0 88.2M279.0 166.1L278.7 166.0L278.0 165.8L277.0 165.6L275.7 165.2L274.5 165.1L273.4 165.3L272.4 165.8L271.5 166.6L270.6 166.8L269.7 166.6L268.9 165.8L268.1 164.6L267.1 163.6L266.1 162.8L265.1 162.2L263.9 161.9L263.0 161.7L262.4 161.5L262.1 161.4M441.2 96.6L441.4 96.4L441.9 96.1L442.7 95.6L443.7 95.0L444.6 94.7L445.5 94.9L446.3 95.5L447.1 96.4L448.0 97.2L449.0 98.0L450.2 98.6L451.5 99.2L452.9 99.6L454.2 100.1L455.6 100.4L457.0 100.7L458.2 100.7L459.3 100.4L460.2 99.7L461.0 98.8L462.0 98.2L463.0 98.1L464.2 98.4L465.6 99.1L466.6 99.7L467.2 100.1L467.6 100.2M262.5 40.5L262.5 40.8L262.4 41.4L262.2 42.3L262.0 43.6L261.7 44.8L261.4 45.9L261.0 47.1L260.5 48.2L259.9 49.2L259.2 50.1L258.4 51.0L257.4 51.8L256.7 52.4L256.2 52.8L255.9 53.0M426.1 106.5L425.8 106.4L425.2 106.2L424.4 105.9L423.2 105.5L422.0 105.1L420.8 104.7L419.5 104.2L418.2 103.8L417.4 103.8L416.9 104.4L416.9 105.4L417.3 106.9L417.6 108.0L417.9 108.8L418.0 109.2M344.9 119.5L345.1 119.8L345.4 120.3L345.9 121.0L346.5 122.1L347.2 123.1L348.0 124.0L349.0 124.9L349.9 125.7L350.7 126.4L351.2 126.8L351.4 127.0M391.6 128.4L391.7 128.7L392.0 129.3L392.4 130.3L393.0 131.5L393.3 132.7L393.1 133.8L392.7 134.9L391.9 135.9L391.4 136.9L391.4 137.9L391.7 138.9L392.4 139.8L392.9 140.5L393.3 141.0L393.4 141.2M276.9 142.7L277.3 142.6L278.0 142.4L279.0 142.1L280.4 141.7L281.5 141.1L282.4 140.3L283.0 139.3L283.3 138.1L283.6 137.2L283.8 136.6L283.8 136.3M255.9 53.0L256.1 53.2L256.5 53.7L257.0 54.5L257.8 55.4L258.2 56.5L258.3 57.5L258.0 58.7L257.5 59.8L257.1 60.7L256.8 61.3L256.6 61.6"/>
<path id="lakes" d="M234.3 105.6L238.7 102.8L245.1 97.3L250.2 92.6L254.6 88.9L259.1 86.2L261.6 87.1L259.7 90.3L255.3 95.0L249.5 99.6L242.5 105.1L236.8 107.5ZM263.5 82.9L268.0 78.3L272.4 73.2L274.3 74.1L269.9 79.7L264.8 84.3ZM259.7 91.7L263.5 89.9L266.1 92.6L262.3 95.4ZM297.2 108.4L301.0 110.7L306.1 113.5L311.2 114.9L311.5 115.8L305.5 114.9L299.8 111.6L296.9 109.3ZM313.8 113.5L318.2 111.2L323.3 108.4L325.2 108.8L320.1 112.1L314.4 114.9ZM338.6 82.0L342.4 85.7L346.8 86.6L351.9 85.2L358.3 86.2L360.5 90.3L360.8 95.4L359.2 95.9L358.6 88.9L352.6 88.0L346.8 88.9L341.8 87.6L337.9 83.4ZM355.4 52.4L358.3 57.0L363.4 61.6L368.5 64.4L373.6 64.9L381.8 66.7L381.8 68.1L373.6 66.7L367.2 65.8L362.1 63.0L357.0 58.4L354.5 53.8ZM351.3 70.0L354.5 71.3L353.8 79.2L351.3 80.1L351.0 74.6ZM390.1 73.2L397.7 73.2L406.6 74.1L406.6 75.5L397.7 75.1L390.1 74.6ZM329.0 70.0L333.5 72.3L332.8 74.6L328.4 71.8ZM377.4 178.8L383.1 179.7L386.9 177.8L391.4 175.1L392.0 176.4L387.5 179.7L383.7 182.5L380.5 182.5L376.7 180.6ZM366.6 169.0L371.6 163.5L376.1 163.0L372.3 166.7L368.5 170.4Z"/>
<filter id="blur06"><feGaussianBlur stdDeviation="0.6"/></filter>
<filter id="blur2" x="-10%" y="-10%" width="120%" height="120%"><feGaussianBlur stdDeviation="1.6"/></filter>
<filter id="blur3" x="-50%" y="-50%" width="200%" height="200%"><feGaussianBlur stdDeviation="3"/></filter>
<g id="roads0" clip-path="url(#chc)" fill="none" stroke-linecap="round" stroke-linejoin="round"><g filter="url(#blur2)"><use href="#t2" stroke="#1f348d" stroke-width="4.0" stroke-opacity="0.25"/><use href="#t3" stroke="#23348f" stroke-width="4.0" stroke-opacity="0.35"/><use href="#t4" stroke="#263492" stroke-width="4.0" stroke-opacity="0.45"/><use href="#t5" stroke="#293495" stroke-width="4.0" stroke-opacity="0.55"/><use href="#t6" stroke="#2c3497" stroke-width="4.0" stroke-opacity="0.65"/><use href="#t7" stroke="#2f349a" stroke-width="4.0" stroke-opacity="0.75"/></g><g filter="url(#blur3)" stroke="none"><circle cx="355.7" cy="50.5" r="7.7" fill="#fa9b38" fill-opacity="0.75"/><circle cx="367.8" cy="39.4" r="5.0" fill="#f36e6b" fill-opacity="0.53"/><circle cx="295.3" cy="34.8" r="6.1" fill="#fa8050" fill-opacity="0.65"/><circle cx="286.4" cy="90.3" r="5.5" fill="#f7795b" fill-opacity="0.60"/><circle cx="234.3" cy="130.1" r="5.5" fill="#f7795b" fill-opacity="0.60"/><circle cx="203.1" cy="159.8" r="5.0" fill="#fa9b38" fill-opacity="0.75"/><circle cx="341.1" cy="81.1" r="5.0" fill="#f36e6b" fill-opacity="0.53"/><circle cx="408.5" cy="46.8" r="5.0" fill="#ed6c6f" fill-opacity="0.50"/><circle cx="340.5" cy="42.2" r="5.0" fill="#f36e6b" fill-opacity="0.53"/><circle cx="318.2" cy="52.4" r="5.5" fill="#f36e6b" fill-opacity="0.53"/><circle cx="273.7" cy="72.7" r="4.4" fill="#ed6c6f" fill-opacity="0.50"/><circle cx="268.0" cy="104.2" r="4.4" fill="#e16776" fill-opacity="0.45"/><circle cx="253.3" cy="86.6" r="4.4" fill="#e76972" fill-opacity="0.47"/><circle cx="354.5" cy="70.0" r="4.4" fill="#e76972" fill-opacity="0.47"/><circle cx="381.8" cy="177.4" r="3.9" fill="#f97c55" fill-opacity="0.62"/><circle cx="361.5" cy="20.9" r="3.9" fill="#e16776" fill-opacity="0.45"/><circle cx="297.9" cy="107.9" r="4.4" fill="#e16776" fill-opacity="0.45"/><circle cx="292.1" cy="66.3" r="4.4" fill="#e76972" fill-opacity="0.47"/><circle cx="373.6" cy="64.4" r="4.4" fill="#e16776" fill-opacity="0.45"/><circle cx="250.2" cy="136.6" r="3.9" fill="#e76972" fill-opacity="0.47"/><circle cx="388.2" cy="43.1" r="4.4" fill="#e16776" fill-opacity="0.45"/><circle cx="334.8" cy="41.3" r="4.4" fill="#e76972" fill-opacity="0.47"/><circle cx="324.6" cy="49.6" r="4.4" fill="#e76972" fill-opacity="0.47"/><circle cx="213.3" cy="141.3" r="4.4" fill="#e16776" fill-opacity="0.45"/><circle cx="226.0" cy="131.1" r="4.4" fill="#e76972" fill-opacity="0.47"/><circle cx="383.7" cy="190.3" r="3.3" fill="#f36e6b" fill-opacity="0.53"/></g><g filter="url(#blur2)"><use href="#v0" stroke="#0c347d" stroke-width="2.2" stroke-opacity="0.3"/><use href="#v1" stroke="#0c347d" stroke-width="2.2" stroke-opacity="0.3"/><use href="#v2" stroke="#0c347d" stroke-width="2.2" stroke-opacity="0.3"/></g><use href="#v0" stroke="#103480" stroke-width="0.9"/><use href="#v1" stroke="#22348e" stroke-width="0.9"/><use href="#v2" stroke="#3d359f" stroke-width="0.9"/><use href="#t0" stroke="#6f4196" stroke-width="0.86"/><use href="#t1" stroke="#8e4b90" stroke-width="0.97"/><use href="#t2" stroke="#b25788" stroke-width="1.08"/><use href="#t3" stroke="#d8637b" stroke-width="1.19"/><use href="#t4" stroke="#f26e6c" stroke-width="1.31"/><use href="#t5" stroke="#f97e52" stroke-width="1.42"/><use href="#t6" stroke="#fa9f35" stroke-width="1.53"/><use href="#t7" stroke="#face37" stroke-width="1.64"/><use href="#lakes" fill="#032036" stroke="#032036" stroke-width="0.8" filter="url(#blur06)"/><use href="#a0" stroke="#5d3d99" stroke-width="1.34" stroke-opacity="0.45"/><use href="#a0" stroke="#b65887" stroke-width="0.57"/><use href="#a1" stroke="#714196" stroke-width="1.41" stroke-opacity="0.45"/><use href="#a1" stroke="#e86a72" stroke-width="0.62"/><use href="#a2" stroke="#844892" stroke-width="1.49" stroke-opacity="0.45"/><use href="#a2" stroke="#f7785b" stroke-width="0.66"/><use href="#a3" stroke="#964e8f" stroke-width="1.56" stroke-opacity="0.45"/><use href="#a3" stroke="#fa8d44" stroke-width="0.70"/><use href="#a4" stroke="#a9548b" stroke-width="1.64" stroke-opacity="0.45"/><use href="#a4" stroke="#faa732" stroke-width="0.75"/><use href="#a5" stroke="#b95986" stroke-width="1.71" stroke-opacity="0.45"/><use href="#a5" stroke="#fac536" stroke-width="0.79"/><use href="#a6" stroke="#ca5f80" stroke-width="1.79" stroke-opacity="0.45"/><use href="#a6" stroke="#f2dd3e" stroke-width="0.83"/><use href="#a7" stroke="#d9647b" stroke-width="1.86" stroke-opacity="0.45"/><use href="#a7" stroke="#e6f24a" stroke-width="0.88"/><use href="#h0" stroke="#603d99" stroke-width="1.56" stroke-opacity="0.55"/><use href="#h1" stroke="#784494" stroke-width="1.69" stroke-opacity="0.55"/><use href="#h2" stroke="#8f4c90" stroke-width="1.81" stroke-opacity="0.55"/><use href="#h3" stroke="#a6538c" stroke-width="1.94" stroke-opacity="0.55"/><use href="#h4" stroke="#bc5a85" stroke-width="2.06" stroke-opacity="0.55"/><use href="#h5" stroke="#d0617e" stroke-width="2.19" stroke-opacity="0.55"/><use href="#h6" stroke="#df6677" stroke-width="2.31" stroke-opacity="0.55"/><use href="#h7" stroke="#ec6b6f" stroke-width="2.44" stroke-opacity="0.55"/><use href="#h0" stroke="#b65887" stroke-width="0.73"/><use href="#h1" stroke="#e86a72" stroke-width="0.79"/><use href="#h2" stroke="#f7785b" stroke-width="0.86"/><use href="#h3" stroke="#fa8d44" stroke-width="0.92"/><use href="#h4" stroke="#faa732" stroke-width="0.98"/><use href="#h5" stroke="#fac536" stroke-width="1.04"/><use href="#h6" stroke="#f2dd3e" stroke-width="1.11"/><use href="#h7" stroke="#e6f24a" stroke-width="1.17"/><g filter="url(#blur3)" stroke="none" style="mix-blend-mode:screen"><circle cx="355.7" cy="50.5" r="9.0" fill="#f3db3d" fill-opacity="0.55"/><circle cx="295.3" cy="34.8" r="6.0" fill="#fabb35" fill-opacity="0.39"/><circle cx="203.1" cy="159.8" r="5.0" fill="#fac736" fill-opacity="0.44"/><circle cx="234.3" cy="130.1" r="5.0" fill="#fabb35" fill-opacity="0.39"/><circle cx="286.4" cy="90.3" r="5.0" fill="#fab034" fill-opacity="0.33"/><circle cx="367.8" cy="39.4" r="4.0" fill="#faa432" fill-opacity="0.28"/><circle cx="340.5" cy="42.2" r="4.0" fill="#faa432" fill-opacity="0.28"/><circle cx="381.8" cy="178.3" r="5.0" fill="#facd37" fill-opacity="0.47"/><circle cx="383.7" cy="190.3" r="3.5" fill="#fac135" fill-opacity="0.41"/><circle cx="200.6" cy="162.6" r="4.0" fill="#fac736" fill-opacity="0.44"/><circle cx="341.1" cy="81.1" r="4.0" fill="#faa432" fill-opacity="0.28"/></g></g>
<g id="roads1" clip-path="url(#chc)" fill="none" stroke-linecap="round" stroke-linejoin="round"><g filter="url(#blur2)"><use href="#t2" stroke="#243490" stroke-width="4.0" stroke-opacity="0.25"/><use href="#t3" stroke="#273493" stroke-width="4.0" stroke-opacity="0.35"/><use href="#t4" stroke="#2a3496" stroke-width="4.0" stroke-opacity="0.45"/><use href="#t5" stroke="#2d3498" stroke-width="4.0" stroke-opacity="0.55"/><use href="#t6" stroke="#31349b" stroke-width="4.0" stroke-opacity="0.65"/><use href="#t7" stroke="#34349d" stroke-width="4.0" stroke-opacity="0.75"/></g><g filter="url(#blur3)" stroke="none"><circle cx="355.7" cy="50.5" r="7.7" fill="#fa8050" fill-opacity="0.75"/><circle cx="367.8" cy="39.4" r="5.0" fill="#df6677" fill-opacity="0.53"/><circle cx="295.3" cy="34.8" r="6.1" fill="#f57364" fill-opacity="0.65"/><circle cx="286.4" cy="90.3" r="5.5" fill="#f06d6d" fill-opacity="0.60"/><circle cx="234.3" cy="130.1" r="5.5" fill="#f06d6d" fill-opacity="0.60"/><circle cx="203.1" cy="159.8" r="5.0" fill="#fa8050" fill-opacity="0.75"/><circle cx="341.1" cy="81.1" r="5.0" fill="#df6677" fill-opacity="0.53"/><circle cx="408.5" cy="46.8" r="5.0" fill="#da647a" fill-opacity="0.50"/><circle cx="340.5" cy="42.2" r="5.0" fill="#df6677" fill-opacity="0.53"/><circle cx="318.2" cy="52.4" r="5.5" fill="#df6677" fill-opacity="0.53"/><circle cx="273.7" cy="72.7" r="4.4" fill="#da647a" fill-opacity="0.50"/><circle cx="268.0" cy="104.2" r="4.4" fill="#ca5f80" fill-opacity="0.45"/><circle cx="253.3" cy="86.6" r="4.4" fill="#d3617e" fill-opacity="0.47"/><circle cx="354.5" cy="70.0" r="4.4" fill="#d3617e" fill-opacity="0.47"/><circle cx="381.8" cy="177.4" r="3.9" fill="#f46f69" fill-opacity="0.62"/><circle cx="361.5" cy="20.9" r="3.9" fill="#ca5f80" fill-opacity="0.45"/><circle cx="297.9" cy="107.9" r="4.4" fill="#ca5f80" fill-opacity="0.45"/><circle cx="292.1" cy="66.3" r="4.4" fill="#d3617e" fill-opacity="0.47"/><circle cx="373.6" cy="64.4" r="4.4" fill="#ca5f80" fill-opacity="0.45"/><circle cx="250.2" cy="136.6" r="3.9" fill="#d3617e" fill-opacity="0.47"/><circle cx="388.2" cy="43.1" r="4.4" fill="#ca5f80" fill-opacity="0.45"/><circle cx="334.8" cy="41.3" r="4.4" fill="#d3617e" fill-opacity="0.47"/><circle cx="324.6" cy="49.6" r="4.4" fill="#d3617e" fill-opacity="0.47"/><circle cx="213.3" cy="141.3" r="4.4" fill="#ca5f80" fill-opacity="0.45"/><circle cx="226.0" cy="131.1" r="4.4" fill="#d3617e" fill-opacity="0.47"/><circle cx="383.7" cy="190.3" r="3.3" fill="#df6677" fill-opacity="0.53"/></g><g filter="url(#blur2)"><use href="#v0" stroke="#0c347d" stroke-width="2.2" stroke-opacity="0.3"/><use href="#v1" stroke="#0c347d" stroke-width="2.2" stroke-opacity="0.3"/><use href="#v2" stroke="#0c347d" stroke-width="2.2" stroke-opacity="0.3"/></g><use href="#v0" stroke="#103480" stroke-width="0.9"/><use href="#v1" stroke="#22348e" stroke-width="0.9"/><use href="#v2" stroke="#3734a0" stroke-width="0.9"/><use href="#t0" stroke="#31349b" stroke-width="0.86"/><use href="#t1" stroke="#3f369f" stroke-width="0.97"/><use href="#t2" stroke="#593c9a" stroke-width="1.08"/><use href="#t3" stroke="#7c4594" stroke-width="1.19"/><use href="#t4" stroke="#a4538c" stroke-width="1.31"/><use href="#t5" stroke="#cf607f" stroke-width="1.42"/><use href="#t6" stroke="#ef6d6d" stroke-width="1.53"/><use href="#t7" stroke="#fa8050" stroke-width="1.64"/><use href="#lakes" fill="#032036" stroke="#032036" stroke-width="0.8" filter="url(#blur06)"/><use href="#a0" stroke="#34349d" stroke-width="1.34" stroke-opacity="0.45"/><use href="#a0" stroke="#4c399c" stroke-width="0.57"/><use href="#a1" stroke="#40369e" stroke-width="1.41" stroke-opacity="0.45"/><use href="#a1" stroke="#6b4097" stroke-width="0.62"/><use href="#a2" stroke="#4e399c" stroke-width="1.49" stroke-opacity="0.45"/><use href="#a2" stroke="#8f4c90" stroke-width="0.66"/><use href="#a3" stroke="#5b3c9a" stroke-width="1.56" stroke-opacity="0.45"/><use href="#a3" stroke="#b65887" stroke-width="0.70"/><use href="#a4" stroke="#693f97" stroke-width="1.64" stroke-opacity="0.45"/><use href="#a4" stroke="#da647a" stroke-width="0.75"/><use href="#a5" stroke="#764395" stroke-width="1.71" stroke-opacity="0.45"/><use href="#a5" stroke="#f36f69" stroke-width="0.79"/><use href="#a6" stroke="#834792" stroke-width="1.79" stroke-opacity="0.45"/><use href="#a6" stroke="#fa8050" stroke-width="0.83"/><use href="#a7" stroke="#904c90" stroke-width="1.86" stroke-opacity="0.45"/><use href="#a7" stroke="#faa232" stroke-width="0.88"/><use href="#h0" stroke="#35349e" stroke-width="1.56" stroke-opacity="0.55"/><use href="#h1" stroke="#45379e" stroke-width="1.69" stroke-opacity="0.55"/><use href="#h2" stroke="#563b9a" stroke-width="1.81" stroke-opacity="0.55"/><use href="#h3" stroke="#673f98" stroke-width="1.94" stroke-opacity="0.55"/><use href="#h4" stroke="#784494" stroke-width="2.06" stroke-opacity="0.55"/><use href="#h5" stroke="#884992" stroke-width="2.19" stroke-opacity="0.55"/><use href="#h6" stroke="#984e8e" stroke-width="2.31" stroke-opacity="0.55"/><use href="#h7" stroke="#a7548b" stroke-width="2.44" stroke-opacity="0.55"/><use href="#h0" stroke="#4c399c" stroke-width="0.73"/><use href="#h1" stroke="#6b4097" stroke-width="0.79"/><use href="#h2" stroke="#8f4c90" stroke-width="0.86"/><use href="#h3" stroke="#b65887" stroke-width="0.92"/><use href="#h4" stroke="#da647a" stroke-width="0.98"/><use href="#h5" stroke="#f36f69" stroke-width="1.04"/><use href="#h6" stroke="#fa8050" stroke-width="1.11"/><use href="#h7" stroke="#faa232" stroke-width="1.17"/><g filter="url(#blur3)" stroke="none" style="mix-blend-mode:screen"><circle cx="355.7" cy="50.5" r="9.0" fill="#faab33" fill-opacity="0.50"/><circle cx="295.3" cy="34.8" r="6.0" fill="#fa8f43" fill-opacity="0.35"/><circle cx="203.1" cy="159.8" r="5.0" fill="#fa983b" fill-opacity="0.40"/><circle cx="234.3" cy="130.1" r="5.0" fill="#fa8f43" fill-opacity="0.35"/><circle cx="286.4" cy="90.3" r="5.0" fill="#fa874a" fill-opacity="0.30"/><circle cx="367.8" cy="39.4" r="4.0" fill="#fa7f51" fill-opacity="0.25"/><circle cx="340.5" cy="42.2" r="4.0" fill="#fa7f51" fill-opacity="0.25"/><circle cx="381.8" cy="178.3" r="5.0" fill="#fa9c37" fill-opacity="0.42"/><circle cx="383.7" cy="190.3" r="3.5" fill="#fa943f" fill-opacity="0.38"/><circle cx="200.6" cy="162.6" r="4.0" fill="#fa983b" fill-opacity="0.40"/><circle cx="341.1" cy="81.1" r="4.0" fill="#fa7f51" fill-opacity="0.25"/></g></g>
<g id="roads2" clip-path="url(#chc)" fill="none" stroke-linecap="round" stroke-linejoin="round"><g filter="url(#blur2)"><use href="#t2" stroke="#243490" stroke-width="4.0" stroke-opacity="0.25"/><use href="#t3" stroke="#273493" stroke-width="4.0" stroke-opacity="0.35"/><use href="#t4" stroke="#2a3496" stroke-width="4.0" stroke-opacity="0.45"/><use href="#t5" stroke="#2d3498" stroke-width="4.0" stroke-opacity="0.55"/><use href="#t6" stroke="#31349b" stroke-width="4.0" stroke-opacity="0.65"/><use href="#t7" stroke="#34349d" stroke-width="4.0" stroke-opacity="0.75"/></g><g filter="url(#blur3)" stroke="none"><circle cx="355.7" cy="50.5" r="7.7" fill="#fa8a47" fill-opacity="0.75"/><circle cx="367.8" cy="39.4" r="5.0" fill="#e76972" fill-opacity="0.53"/><circle cx="295.3" cy="34.8" r="6.1" fill="#f7785c" fill-opacity="0.65"/><circle cx="286.4" cy="90.3" r="5.5" fill="#f47167" fill-opacity="0.60"/><circle cx="234.3" cy="130.1" r="5.5" fill="#f47167" fill-opacity="0.60"/><circle cx="203.1" cy="159.8" r="5.0" fill="#fa8a47" fill-opacity="0.75"/><circle cx="341.1" cy="81.1" r="5.0" fill="#e76972" fill-opacity="0.53"/><circle cx="408.5" cy="46.8" r="5.0" fill="#e16776" fill-opacity="0.50"/><circle cx="340.5" cy="42.2" r="5.0" fill="#e76972" fill-opacity="0.53"/><circle cx="318.2" cy="52.4" r="5.5" fill="#e76972" fill-opacity="0.53"/><circle cx="273.7" cy="72.7" r="4.4" fill="#e16776" fill-opacity="0.50"/><circle cx="268.0" cy="104.2" r="4.4" fill="#d6627d" fill-opacity="0.45"/><circle cx="253.3" cy="86.6" r="4.4" fill="#db6579" fill-opacity="0.47"/><circle cx="354.5" cy="70.0" r="4.4" fill="#db6579" fill-opacity="0.47"/><circle cx="381.8" cy="177.4" r="3.9" fill="#f57462" fill-opacity="0.62"/><circle cx="361.5" cy="20.9" r="3.9" fill="#d6627d" fill-opacity="0.45"/><circle cx="297.9" cy="107.9" r="4.4" fill="#d6627d" fill-opacity="0.45"/><circle cx="292.1" cy="66.3" r="4.4" fill="#db6579" fill-opacity="0.47"/><circle cx="373.6" cy="64.4" r="4.4" fill="#d6627d" fill-opacity="0.45"/><circle cx="250.2" cy="136.6" r="3.9" fill="#db6579" fill-opacity="0.47"/><circle cx="388.2" cy="43.1" r="4.4" fill="#d6627d" fill-opacity="0.45"/><circle cx="334.8" cy="41.3" r="4.4" fill="#db6579" fill-opacity="0.47"/><circle cx="324.6" cy="49.6" r="4.4" fill="#db6579" fill-opacity="0.47"/><circle cx="213.3" cy="141.3" r="4.4" fill="#d6627d" fill-opacity="0.45"/><circle cx="226.0" cy="131.1" r="4.4" fill="#db6579" fill-opacity="0.47"/><circle cx="383.7" cy="190.3" r="3.3" fill="#e76972" fill-opacity="0.53"/></g><g filter="url(#blur2)"><use href="#v0" stroke="#0c347d" stroke-width="2.2" stroke-opacity="0.3"/><use href="#v1" stroke="#0c347d" stroke-width="2.2" stroke-opacity="0.3"/><use href="#v2" stroke="#0c347d" stroke-width="2.2" stroke-opacity="0.3"/></g><use href="#v0" stroke="#103480" stroke-width="0.9"/><use href="#v1" stroke="#22348e" stroke-width="0.9"/><use href="#v2" stroke="#3734a0" stroke-width="0.9"/><use href="#t0" stroke="#3a359f" stroke-width="0.86"/><use href="#t1" stroke="#4a389d" stroke-width="0.97"/><use href="#t2" stroke="#653e98" stroke-width="1.08"/><use href="#t3" stroke="#864992" stroke-width="1.19"/><use href="#t4" stroke="#ae5689" stroke-width="1.31"/><use href="#t5" stroke="#d7637c" stroke-width="1.42"/><use href="#t6" stroke="#f46f69" stroke-width="1.53"/><use href="#t7" stroke="#fa874a" stroke-width="1.64"/><use href="#lakes" fill="#032036" stroke="#032036" stroke-width="0.8" filter="url(#blur06)"/><use href="#a0" stroke="#3934a0" stroke-width="1.34" stroke-opacity="0.45"/><use href="#a0" stroke="#583b9a" stroke-width="0.57"/><use href="#a1" stroke="#48389d" stroke-width="1.41" stroke-opacity="0.45"/><use href="#a1" stroke="#774395" stroke-width="0.62"/><use href="#a2" stroke="#563b9a" stroke-width="1.49" stroke-opacity="0.45"/><use href="#a2" stroke="#9b508e" stroke-width="0.66"/><use href="#a3" stroke="#653f98" stroke-width="1.56" stroke-opacity="0.45"/><use href="#a3" stroke="#c15c83" stroke-width="0.70"/><use href="#a4" stroke="#744295" stroke-width="1.64" stroke-opacity="0.45"/><use href="#a4" stroke="#e26775" stroke-width="0.75"/><use href="#a5" stroke="#814793" stroke-width="1.71" stroke-opacity="0.45"/><use href="#a5" stroke="#f57462" stroke-width="0.79"/><use href="#a6" stroke="#8f4c90" stroke-width="1.79" stroke-opacity="0.45"/><use href="#a6" stroke="#fa8a47" stroke-width="0.83"/><use href="#a7" stroke="#9d508e" stroke-width="1.86" stroke-opacity="0.45"/><use href="#a7" stroke="#faaf33" stroke-width="0.88"/><use href="#h0" stroke="#3b359f" stroke-width="1.56" stroke-opacity="0.55"/><use href="#h1" stroke="#4d399c" stroke-width="1.69" stroke-opacity="0.55"/><use href="#h2" stroke="#603d99" stroke-width="1.81" stroke-opacity="0.55"/><use href="#h3" stroke="#724296" stroke-width="1.94" stroke-opacity="0.55"/><use href="#h4" stroke="#834892" stroke-width="2.06" stroke-opacity="0.55"/><use href="#h5" stroke="#944d8f" stroke-width="2.19" stroke-opacity="0.55"/><use href="#h6" stroke="#a6538c" stroke-width="2.31" stroke-opacity="0.55"/><use href="#h7" stroke="#b55887" stroke-width="2.44" stroke-opacity="0.55"/><use href="#h0" stroke="#583b9a" stroke-width="0.73"/><use href="#h1" stroke="#774395" stroke-width="0.79"/><use href="#h2" stroke="#9b508e" stroke-width="0.86"/><use href="#h3" stroke="#c15c83" stroke-width="0.92"/><use href="#h4" stroke="#e26775" stroke-width="0.98"/><use href="#h5" stroke="#f57462" stroke-width="1.04"/><use href="#h6" stroke="#fa8a47" stroke-width="1.11"/><use href="#h7" stroke="#faaf33" stroke-width="1.17"/><g filter="url(#blur3)" stroke="none" style="mix-blend-mode:screen"><circle cx="355.7" cy="50.5" r="9.0" fill="#fab934" fill-opacity="0.50"/><circle cx="295.3" cy="34.8" r="6.0" fill="#fa993a" fill-opacity="0.35"/><circle cx="203.1" cy="159.8" r="5.0" fill="#faa232" fill-opacity="0.40"/><circle cx="234.3" cy="130.1" r="5.0" fill="#fa993a" fill-opacity="0.35"/><circle cx="286.4" cy="90.3" r="5.0" fill="#fa9141" fill-opacity="0.30"/><circle cx="367.8" cy="39.4" r="4.0" fill="#fa8848" fill-opacity="0.25"/><circle cx="340.5" cy="42.2" r="4.0" fill="#fa8848" fill-opacity="0.25"/><circle cx="381.8" cy="178.3" r="5.0" fill="#faa833" fill-opacity="0.42"/><circle cx="383.7" cy="190.3" r="3.5" fill="#fa9e36" fill-opacity="0.38"/><circle cx="200.6" cy="162.6" r="4.0" fill="#faa232" fill-opacity="0.40"/><circle cx="341.1" cy="81.1" r="4.0" fill="#fa8848" fill-opacity="0.25"/></g></g>
<g id="roads3" clip-path="url(#chc)" fill="none" stroke-linecap="round" stroke-linejoin="round"><g filter="url(#blur2)"><use href="#t2" stroke="#1f348d" stroke-width="4.0" stroke-opacity="0.25"/><use href="#t3" stroke="#23348f" stroke-width="4.0" stroke-opacity="0.35"/><use href="#t4" stroke="#263492" stroke-width="4.0" stroke-opacity="0.45"/><use href="#t5" stroke="#293495" stroke-width="4.0" stroke-opacity="0.55"/><use href="#t6" stroke="#2c3497" stroke-width="4.0" stroke-opacity="0.65"/><use href="#t7" stroke="#2f349a" stroke-width="4.0" stroke-opacity="0.75"/></g><g filter="url(#blur3)" stroke="none"><circle cx="355.7" cy="50.5" r="7.7" fill="#faa232" fill-opacity="0.75"/><circle cx="367.8" cy="39.4" r="5.0" fill="#f47068" fill-opacity="0.53"/><circle cx="295.3" cy="34.8" r="6.1" fill="#fa854b" fill-opacity="0.65"/><circle cx="286.4" cy="90.3" r="5.5" fill="#f87b57" fill-opacity="0.60"/><circle cx="234.3" cy="130.1" r="5.5" fill="#f87b57" fill-opacity="0.60"/><circle cx="203.1" cy="159.8" r="5.0" fill="#faa232" fill-opacity="0.75"/><circle cx="341.1" cy="81.1" r="5.0" fill="#f47068" fill-opacity="0.53"/><circle cx="408.5" cy="46.8" r="5.0" fill="#f06d6d" fill-opacity="0.50"/><circle cx="340.5" cy="42.2" r="5.0" fill="#f47068" fill-opacity="0.53"/><circle cx="318.2" cy="52.4" r="5.5" fill="#f47068" fill-opacity="0.53"/><circle cx="273.7" cy="72.7" r="4.4" fill="#f06d6d" fill-opacity="0.50"/><circle cx="268.0" cy="104.2" r="4.4" fill="#e36874" fill-opacity="0.45"/><circle cx="253.3" cy="86.6" r="4.4" fill="#ea6a71" fill-opacity="0.47"/><circle cx="354.5" cy="70.0" r="4.4" fill="#ea6a71" fill-opacity="0.47"/><circle cx="381.8" cy="177.4" r="3.9" fill="#fa7f51" fill-opacity="0.62"/><circle cx="361.5" cy="20.9" r="3.9" fill="#e36874" fill-opacity="0.45"/><circle cx="297.9" cy="107.9" r="4.4" fill="#e36874" fill-opacity="0.45"/><circle cx="292.1" cy="66.3" r="4.4" fill="#ea6a71" fill-opacity="0.47"/><circle cx="373.6" cy="64.4" r="4.4" fill="#e36874" fill-opacity="0.45"/><circle cx="250.2" cy="136.6" r="3.9" fill="#ea6a71" fill-opacity="0.47"/><circle cx="388.2" cy="43.1" r="4.4" fill="#e36874" fill-opacity="0.45"/><circle cx="334.8" cy="41.3" r="4.4" fill="#ea6a71" fill-opacity="0.47"/><circle cx="324.6" cy="49.6" r="4.4" fill="#ea6a71" fill-opacity="0.47"/><circle cx="213.3" cy="141.3" r="4.4" fill="#e36874" fill-opacity="0.45"/><circle cx="226.0" cy="131.1" r="4.4" fill="#ea6a71" fill-opacity="0.47"/><circle cx="383.7" cy="190.3" r="3.3" fill="#f47068" fill-opacity="0.53"/></g><g filter="url(#blur2)"><use href="#v0" stroke="#0c347d" stroke-width="2.2" stroke-opacity="0.3"/><use href="#v1" stroke="#0c347d" stroke-width="2.2" stroke-opacity="0.3"/><use href="#v2" stroke="#0c347d" stroke-width="2.2" stroke-opacity="0.3"/></g><use href="#v0" stroke="#103480" stroke-width="0.9"/><use href="#v1" stroke="#22348e" stroke-width="0.9"/><use href="#v2" stroke="#3d359f" stroke-width="0.9"/><use href="#t0" stroke="#533a9b" stroke-width="0.86"/><use href="#t1" stroke="#6b4097" stroke-width="0.97"/><use href="#t2" stroke="#8d4b90" stroke-width="1.08"/><use href="#t3" stroke="#b75986" stroke-width="1.19"/><use href="#t4" stroke="#df6677" stroke-width="1.31"/><use href="#t5" stroke="#f6765e" stroke-width="1.42"/><use href="#t6" stroke="#fa983b" stroke-width="1.53"/><use href="#t7" stroke="#f8d338" stroke-width="1.64"/><use href="#lakes" fill="#032036" stroke="#032036" stroke-width="0.8" filter="url(#blur06)"/><use href="#a0" stroke="#5d3d99" stroke-width="1.34" stroke-opacity="0.45"/><use href="#a0" stroke="#ae5689" stroke-width="0.57"/><use href="#a1" stroke="#714196" stroke-width="1.41" stroke-opacity="0.45"/><use href="#a1" stroke="#e26775" stroke-width="0.62"/><use href="#a2" stroke="#844892" stroke-width="1.49" stroke-opacity="0.45"/><use href="#a2" stroke="#f67561" stroke-width="0.66"/><use href="#a3" stroke="#964e8f" stroke-width="1.56" stroke-opacity="0.45"/><use href="#a3" stroke="#fa874a" stroke-width="0.70"/><use href="#a4" stroke="#a9548b" stroke-width="1.64" stroke-opacity="0.45"/><use href="#a4" stroke="#faa033" stroke-width="0.75"/><use href="#a5" stroke="#b95986" stroke-width="1.71" stroke-opacity="0.45"/><use href="#a5" stroke="#fac035" stroke-width="0.79"/><use href="#a6" stroke="#ca5f80" stroke-width="1.79" stroke-opacity="0.45"/><use href="#a6" stroke="#f4db3d" stroke-width="0.83"/><use href="#a7" stroke="#d9647b" stroke-width="1.86" stroke-opacity="0.45"/><use href="#a7" stroke="#e6f149" stroke-width="0.88"/><use href="#h0" stroke="#603d99" stroke-width="1.56" stroke-opacity="0.55"/><use href="#h1" stroke="#784494" stroke-width="1.69" stroke-opacity="0.55"/><use href="#h2" stroke="#8f4c90" stroke-width="1.81" stroke-opacity="0.55"/><use href="#h3" stroke="#a6538c" stroke-width="1.94" stroke-opacity="0.55"/><use href="#h4" stroke="#bc5a85" stroke-width="2.06" stroke-opacity="0.55"/><use href="#h5" stroke="#d0617e" stroke-width="2.19" stroke-opacity="0.55"/><use href="#h6" stroke="#df6677" stroke-width="2.31" stroke-opacity="0.55"/><use href="#h7" stroke="#ec6b6f" stroke-width="2.44" stroke-opacity="0.55"/><use href="#h0" stroke="#ae5689" stroke-width="0.73"/><use href="#h1" stroke="#e26775" stroke-width="0.79"/><use href="#h2" stroke="#f67561" stroke-width="0.86"/><use href="#h3" stroke="#fa874a" stroke-width="0.92"/><use href="#h4" stroke="#faa033" stroke-width="0.98"/><use href="#h5" stroke="#fac035" stroke-width="1.04"/><use href="#h6" stroke="#f4db3d" stroke-width="1.11"/><use href="#h7" stroke="#e6f149" stroke-width="1.17"/><g filter="url(#blur3)" stroke="none" style="mix-blend-mode:screen"><circle cx="355.7" cy="50.5" r="9.0" fill="#e8ee47" fill-opacity="0.75"/><circle cx="295.3" cy="34.8" r="6.0" fill="#f9d238" fill-opacity="0.52"/><circle cx="203.1" cy="159.8" r="5.0" fill="#f3db3d" fill-opacity="0.60"/><circle cx="234.3" cy="130.1" r="5.0" fill="#f9d238" fill-opacity="0.52"/><circle cx="286.4" cy="90.3" r="5.0" fill="#fac736" fill-opacity="0.45"/><circle cx="367.8" cy="39.4" r="4.0" fill="#fabb35" fill-opacity="0.38"/><circle cx="340.5" cy="42.2" r="4.0" fill="#fabb35" fill-opacity="0.38"/><circle cx="381.8" cy="178.3" r="5.0" fill="#f1e040" fill-opacity="0.64"/><circle cx="383.7" cy="190.3" r="3.5" fill="#f6d63b" fill-opacity="0.56"/><circle cx="200.6" cy="162.6" r="4.0" fill="#f3db3d" fill-opacity="0.60"/><circle cx="341.1" cy="81.1" r="4.0" fill="#fabb35" fill-opacity="0.38"/></g></g></defs>
<defs>
<path id="ch" d="M256.6 44.3 L258.4 40.8 L260.7 39.6 L264.2 40.2 L267.7 39.6 L269.5 40.8 L270 43.7 L273.5 45.4 L277 46 L280.5 44.9 L284 42.5 L285.8 40.2 L288.7 41.4 L290.5 39 L291.1 35.5 L294.6 33.8 L296.9 32 L298.7 30.3 L300.4 31.4 L301.6 33.8 L303.9 35.5 L307.4 35.5 L309.7 32.6 L315 32 L320.5 33 L327.5 31.3 L332.8 28.7 L338.5 28.2 L340.3 30 L343.8 31.3 L347.3 30.4 L350.8 28.6 L353.8 28.2 L356 26 L358.2 25.1 L355.1 24.7 L351.6 23.8 L348.1 22.5 L347.3 20.8 L349 18.1 L350.8 15.5 L353.4 13.8 L356 12.4 L358.2 11.6 L360 12 L361.3 12.9 L363 12.4 L364.8 13.8 L367 15.1 L368.3 15.9 L367.4 17.3 L367 19.5 L369.2 21.2 L370.5 19.9 L372.2 18.1 L373.5 19.5 L376.2 21.2 L376.2 22.5 L378.8 23.8 L382.3 23.8 L385.8 23 L388.1 23.3 L392.5 24.2 L396.9 25.5 L401.3 25.9 L405.6 28.1 L410 30.8 L414.4 33.4 L418.8 35.6 L420.1 38.6 L422.7 41.3 L425.8 43.9 L426.7 48.3 L424.5 51.8 L421.4 55.3 L419.7 58.8 L417.9 62.3 L416.2 65.8 L414.7 67.3 L415.4 71.2 L416 75.2 L418 78.5 L419.3 80.4 L423.9 80.4 L429.2 81.1 L434.4 82.4 L439 84.4 L440.3 87 L442.3 91 L446.2 93.6 L450.2 96.2 L454.1 98.8 L459.4 98.2 L462 96.2 L463.3 92.3 L467.3 91 L469.9 87 L473.2 85.7 L475.8 88.3 L478.4 91.6 L477.8 96.2 L477.1 101.6 L475.1 108.1 L473.2 114.7 L475.8 118.7 L477.8 121.3 L477.8 125.2 L475.1 127.2 L469.9 125.9 L466 123.9 L463.3 121.3 L460.7 118.7 L456.8 119.3 L454.1 121.3 L451.5 126.5 L450.8 131.8 L451.5 135.7 L455.4 138.4 L457.4 141 L455.4 143.6 L454.1 146.9 L457.4 151.5 L458.1 154.1 L456.1 155.4 L452.8 156.1 L450.8 154.1 L449.5 150.2 L447.6 147.6 L446.9 144.9 L444.3 143.6 L441.6 143 L438.4 143.6 L434.4 144.9 L430.5 146.9 L426.5 148.9 L421.3 148.9 L418 147.6 L416 144.9 L414.7 141 L414.1 137 L413.4 133.1 L411.4 131.8 L408.1 130.5 L405.5 129.8 L402.3 133 L401 135.6 L401.6 139.6 L402.9 144.2 L402.9 149.4 L401.6 153.4 L399.6 157.3 L397 160.6 L395.7 163.9 L393.1 166.5 L390.4 168.5 L387.8 171.8 L385.8 175.7 L386.5 179.6 L387.8 183.6 L389.8 186.9 L387.8 188.8 L386.5 192.1 L385.2 194.1 L381.2 192.8 L379.3 190.1 L378.6 186.2 L376.6 182.3 L374.7 179.6 L372 178.3 L373.4 175.7 L374.7 171.8 L373.4 167.8 L369.4 166.5 L365.5 167.2 L360.9 166.5 L358.2 163.9 L356.3 159.9 L352.3 156 L349.7 153.4 L349.1 149.4 L349.7 145.5 L349.7 140.2 L349.7 135.6 L346.8 136.5 L342.8 138.9 L338 145.3 L333.1 148.5 L328.3 151.8 L329.9 155 L330.7 159.8 L328.3 164.6 L326.7 169.4 L321.9 174.2 L318.7 179.1 L313.9 182.3 L309.1 183.9 L304.2 183.1 L299.4 180.7 L295.4 179.1 L291.4 179.9 L286.6 183.1 L281.8 184.7 L276.9 185.5 L272.1 187.1 L268.1 189.5 L264.1 188.7 L260.9 182.3 L259.3 177.4 L256.9 174.2 L255.3 171 L251.2 171 L249.6 166.2 L246.4 163 L246.4 156.6 L247.8 155.4 L248.7 151.6 L246.8 148.7 L244.9 145.9 L244.9 144 L245.9 140.2 L243 137.8 L240.2 136.4 L236.4 135.4 L231.6 135.4 L227.8 135.9 L225 137.3 L221.2 138.8 L217.4 140.2 L213.6 142.1 L210.8 144.9 L209.3 148.2 L210.3 150.6 L211.2 153 L213.6 154.4 L212.7 156.3 L209.8 160.1 L206 162.5 L202.2 163.9 L196.5 164.8 L191.8 165.8 L192.3 162 L193.7 158.2 L196.5 155.4 L200.3 152.5 L202.7 148.7 L203.2 144.9 L200.8 141.6 L198.9 138.3 L199.9 134.5 L201.3 129.7 L202.2 125 L203.8 122.7 L208.1 118.8 L212.5 114.4 L217.8 111 L221.3 108.3 L223.9 104.8 L223 101.3 L223.9 97.8 L223 94.3 L223 90.8 L225.6 88.1 L230 86.4 L234.4 84.6 L237 82 L239.7 78.7 L243.2 75.2 L246.7 72.9 L249 69.4 L252.5 65.9 L254.9 62.4 L256 58.9 L258.4 55.4 L256.6 53.6 L253.1 52.4 L251.4 50.7 L252.5 47.8 L254.3 46Z"/>
<clipPath id="chc"><use href="#ch"/></clipPath>
<linearGradient id="cbg" x1="0" y1="0" x2="0" y2="1"><stop offset="0.000" stop-color="#e4f54b"/><stop offset="0.100" stop-color="#fad037"/><stop offset="0.200" stop-color="#faa232"/><stop offset="0.300" stop-color="#fa8050"/><stop offset="0.400" stop-color="#f36e6b"/><stop offset="0.500" stop-color="#d5627d"/><stop offset="0.600" stop-color="#a5538c"/><stop offset="0.700" stop-color="#704196"/><stop offset="0.800" stop-color="#3734a0"/><stop offset="0.900" stop-color="#0c347d"/><stop offset="1.000" stop-color="#032036"/></linearGradient>
</defs>
<g transform="translate(0 0)">
<line x1="194.2" y1="6.5" x2="194.2" y2="200.5" class="grid"/>
<line x1="257.8" y1="6.5" x2="257.8" y2="200.5" class="grid"/>
<line x1="321.4" y1="6.5" x2="321.4" y2="200.5" class="grid"/>
<line x1="385.0" y1="6.5" x2="385.0" y2="200.5" class="grid"/>
<line x1="448.6" y1="6.5" x2="448.6" y2="200.5" class="grid"/>
<line x1="172.5" y1="39.4" x2="508.5" y2="39.4" class="grid"/>
<line x1="172.5" y1="85.7" x2="508.5" y2="85.7" class="grid"/>
<line x1="172.5" y1="132.0" x2="508.5" y2="132.0" class="grid"/>
<line x1="172.5" y1="178.3" x2="508.5" y2="178.3" class="grid"/>
<use href="#ch" fill="#032036"/>
<use href="#roads0"/>
<rect x="172.5" y="6.5" width="336.0" height="194.0" class="frame"/>
<line x1="194.2" y1="200.5" x2="194.2" y2="197.0" class="tick"/>
<text x="194.2" y="222.5" font-size="17" text-anchor="middle" >6.0°E</text>
<line x1="257.8" y1="200.5" x2="257.8" y2="197.0" class="tick"/>
<text x="257.8" y="222.5" font-size="17" text-anchor="middle" >7.0°E</text>
<line x1="321.4" y1="200.5" x2="321.4" y2="197.0" class="tick"/>
<text x="321.4" y="222.5" font-size="17" text-anchor="middle" >8.0°E</text>
<line x1="385.0" y1="200.5" x2="385.0" y2="197.0" class="tick"/>
<text x="385" y="222.5" font-size="17" text-anchor="middle" >9.0°E</text>
<line x1="448.6" y1="200.5" x2="448.6" y2="197.0" class="tick"/>
<text x="448.6" y="222.5" font-size="17" text-anchor="middle" >10.0°E</text>
<line x1="172.5" y1="39.4" x2="176.0" y2="39.4" class="tick"/>
<text x="166.5" y="45.6" font-size="17" text-anchor="end" >47.5°N</text>
<line x1="172.5" y1="85.7" x2="176.0" y2="85.7" class="tick"/>
<text x="166.5" y="91.9" font-size="17" text-anchor="end" >47.0°N</text>
<line x1="172.5" y1="132.0" x2="176.0" y2="132.0" class="tick"/>
<text x="166.5" y="138.2" font-size="17" text-anchor="end" >46.5°N</text>
<line x1="172.5" y1="178.3" x2="176.0" y2="178.3" class="tick"/>
<text x="166.5" y="184.5" font-size="17" text-anchor="end" >46.0°N</text>
<text x="340.5" y="242.5" font-size="19" text-anchor="middle" >Longitude (degree)</text>
<text transform="translate(109.2 103.5) rotate(-90)" font-size="19" text-anchor="middle">Latitude (degree)</text>
<text x="127.8" y="15.2" font-size="22.2" text-anchor="start" >(a)</text>
<text x="194.6" y="31.5" font-size="19" text-anchor="start" >JFM</text>
<path d="M528.3 10.2 L533.0999999999999 6.8 L537.9 10.2 L537.9 215.8 L533.0999999999999 219 L528.3 215.8 Z" fill="url(#cbg)" stroke="#777" stroke-width="0.4"/>
<path d="M528.5 10.299999999999999 L533.0999999999999 6.9 L537.6999999999999 10.299999999999999 Z" fill="#e4f54b"/>
<path d="M528.5 215.70000000000002 L533.0999999999999 218.9 L537.6999999999999 215.70000000000002 Z" fill="#032036"/>
<text x="542.3" y="221.9" font-size="17" text-anchor="start" >2000</text>
<text x="542.3" y="180.8" font-size="17" text-anchor="start" >4000</text>
<line x1="535.6" y1="174.7" x2="537.9" y2="174.7" stroke="#555" stroke-width="0.9"/>
<text x="542.3" y="139.7" font-size="17" text-anchor="start" >6000</text>
<line x1="535.6" y1="133.6" x2="537.9" y2="133.6" stroke="#555" stroke-width="0.9"/>
<text x="542.3" y="98.5" font-size="17" text-anchor="start" >8000</text>
<line x1="535.6" y1="92.4" x2="537.9" y2="92.4" stroke="#555" stroke-width="0.9"/>
<text x="542.3" y="57.4" font-size="17" text-anchor="start" >10000</text>
<line x1="535.6" y1="51.3" x2="537.9" y2="51.3" stroke="#555" stroke-width="0.9"/>
<text x="542.3" y="16.3" font-size="17" text-anchor="start" >12000</text>
<text transform="translate(608.4 114.2) rotate(-90)" font-size="17.4" text-anchor="middle">Particle Number</text>
<text transform="translate(632.4 195.3) rotate(-90)" font-size="17.2">Concentration&#160; (cm<tspan font-size="13.5" dy="-8.3" dx="0.4">-3</tspan><tspan dy="8.3" dx="0.8">)</tspan></text>
</g>
<g transform="translate(0 260.3)">
<line x1="194.2" y1="6.5" x2="194.2" y2="200.5" class="grid"/>
<line x1="257.8" y1="6.5" x2="257.8" y2="200.5" class="grid"/>
<line x1="321.4" y1="6.5" x2="321.4" y2="200.5" class="grid"/>
<line x1="385.0" y1="6.5" x2="385.0" y2="200.5" class="grid"/>
<line x1="448.6" y1="6.5" x2="448.6" y2="200.5" class="grid"/>
<line x1="172.5" y1="39.4" x2="508.5" y2="39.4" class="grid"/>
<line x1="172.5" y1="85.7" x2="508.5" y2="85.7" class="grid"/>
<line x1="172.5" y1="132.0" x2="508.5" y2="132.0" class="grid"/>
<line x1="172.5" y1="178.3" x2="508.5" y2="178.3" class="grid"/>
<use href="#ch" fill="#032036"/>
<use href="#roads1"/>
<rect x="172.5" y="6.5" width="336.0" height="194.0" class="frame"/>
<line x1="194.2" y1="200.5" x2="194.2" y2="197.0" class="tick"/>
<text x="194.2" y="222.5" font-size="17" text-anchor="middle" >6.0°E</text>
<line x1="257.8" y1="200.5" x2="257.8" y2="197.0" class="tick"/>
<text x="257.8" y="222.5" font-size="17" text-anchor="middle" >7.0°E</text>
<line x1="321.4" y1="200.5" x2="321.4" y2="197.0" class="tick"/>
<text x="321.4" y="222.5" font-size="17" text-anchor="middle" >8.0°E</text>
<line x1="385.0" y1="200.5" x2="385.0" y2="197.0" class="tick"/>
<text x="385" y="222.5" font-size="17" text-anchor="middle" >9.0°E</text>
<line x1="448.6" y1="200.5" x2="448.6" y2="197.0" class="tick"/>
<text x="448.6" y="222.5" font-size="17" text-anchor="middle" >10.0°E</text>
<line x1="172.5" y1="39.4" x2="176.0" y2="39.4" class="tick"/>
<text x="166.5" y="45.6" font-size="17" text-anchor="end" >47.5°N</text>
<line x1="172.5" y1="85.7" x2="176.0" y2="85.7" class="tick"/>
<text x="166.5" y="91.9" font-size="17" text-anchor="end" >47.0°N</text>
<line x1="172.5" y1="132.0" x2="176.0" y2="132.0" class="tick"/>
<text x="166.5" y="138.2" font-size="17" text-anchor="end" >46.5°N</text>
<line x1="172.5" y1="178.3" x2="176.0" y2="178.3" class="tick"/>
<text x="166.5" y="184.5" font-size="17" text-anchor="end" >46.0°N</text>
<text x="340.5" y="242.5" font-size="19" text-anchor="middle" >Longitude (degree)</text>
<text transform="translate(109.2 103.5) rotate(-90)" font-size="19" text-anchor="middle">Latitude (degree)</text>
<text x="127.8" y="15.2" font-size="22.2" text-anchor="start" >(b)</text>
<text x="194.6" y="29.9" font-size="19" text-anchor="start" >AMJ</text>
<path d="M528.3 10.2 L533.0999999999999 6.8 L537.9 10.2 L537.9 215.8 L533.0999999999999 219 L528.3 215.8 Z" fill="url(#cbg)" stroke="#777" stroke-width="0.4"/>
<path d="M528.5 10.299999999999999 L533.0999999999999 6.9 L537.6999999999999 10.299999999999999 Z" fill="#e4f54b"/>
<path d="M528.5 215.70000000000002 L533.0999999999999 218.9 L537.6999999999999 215.70000000000002 Z" fill="#032036"/>
<text x="542.3" y="221.9" font-size="17" text-anchor="start" >2000</text>
<text x="542.3" y="180.8" font-size="17" text-anchor="start" >4000</text>
<line x1="535.6" y1="174.7" x2="537.9" y2="174.7" stroke="#555" stroke-width="0.9"/>
<text x="542.3" y="139.7" font-size="17" text-anchor="start" >6000</text>
<line x1="535.6" y1="133.6" x2="537.9" y2="133.6" stroke="#555" stroke-width="0.9"/>
<text x="542.3" y="98.5" font-size="17" text-anchor="start" >8000</text>
<line x1="535.6" y1="92.4" x2="537.9" y2="92.4" stroke="#555" stroke-width="0.9"/>
<text x="542.3" y="57.4" font-size="17" text-anchor="start" >10000</text>
<line x1="535.6" y1="51.3" x2="537.9" y2="51.3" stroke="#555" stroke-width="0.9"/>
<text x="542.3" y="16.3" font-size="17" text-anchor="start" >12000</text>
<text transform="translate(608.4 114.2) rotate(-90)" font-size="17.4" text-anchor="middle">Particle Number</text>
<text transform="translate(632.4 195.3) rotate(-90)" font-size="17.2">Concentration&#160; (cm<tspan font-size="13.5" dy="-8.3" dx="0.4">-3</tspan><tspan dy="8.3" dx="0.8">)</tspan></text>
</g>
<g transform="translate(0 519.8)">
<line x1="194.2" y1="6.5" x2="194.2" y2="200.5" class="grid"/>
<line x1="257.8" y1="6.5" x2="257.8" y2="200.5" class="grid"/>
<line x1="321.4" y1="6.5" x2="321.4" y2="200.5" class="grid"/>
<line x1="385.0" y1="6.5" x2="385.0" y2="200.5" class="grid"/>
<line x1="448.6" y1="6.5" x2="448.6" y2="200.5" class="grid"/>
<line x1="172.5" y1="39.4" x2="508.5" y2="39.4" class="grid"/>
<line x1="172.5" y1="85.7" x2="508.5" y2="85.7" class="grid"/>
<line x1="172.5" y1="132.0" x2="508.5" y2="132.0" class="grid"/>
<line x1="172.5" y1="178.3" x2="508.5" y2="178.3" class="grid"/>
<use href="#ch" fill="#032036"/>
<use href="#roads2"/>
<rect x="172.5" y="6.5" width="336.0" height="194.0" class="frame"/>
<line x1="194.2" y1="200.5" x2="194.2" y2="197.0" class="tick"/>
<text x="194.2" y="222.5" font-size="17" text-anchor="middle" >6.0°E</text>
<line x1="257.8" y1="200.5" x2="257.8" y2="197.0" class="tick"/>
<text x="257.8" y="222.5" font-size="17" text-anchor="middle" >7.0°E</text>
<line x1="321.4" y1="200.5" x2="321.4" y2="197.0" class="tick"/>
<text x="321.4" y="222.5" font-size="17" text-anchor="middle" >8.0°E</text>
<line x1="385.0" y1="200.5" x2="385.0" y2="197.0" class="tick"/>
<text x="385" y="222.5" font-size="17" text-anchor="middle" >9.0°E</text>
<line x1="448.6" y1="200.5" x2="448.6" y2="197.0" class="tick"/>
<text x="448.6" y="222.5" font-size="17" text-anchor="middle" >10.0°E</text>
<line x1="172.5" y1="39.4" x2="176.0" y2="39.4" class="tick"/>
<text x="166.5" y="45.6" font-size="17" text-anchor="end" >47.5°N</text>
<line x1="172.5" y1="85.7" x2="176.0" y2="85.7" class="tick"/>
<text x="166.5" y="91.9" font-size="17" text-anchor="end" >47.0°N</text>
<line x1="172.5" y1="132.0" x2="176.0" y2="132.0" class="tick"/>
<text x="166.5" y="138.2" font-size="17" text-anchor="end" >46.5°N</text>
<line x1="172.5" y1="178.3" x2="176.0" y2="178.3" class="tick"/>
<text x="166.5" y="184.5" font-size="17" text-anchor="end" >46.0°N</text>
<text x="340.5" y="242.5" font-size="19" text-anchor="middle" >Longitude (degree)</text>
<text transform="translate(109.2 103.5) rotate(-90)" font-size="19" text-anchor="middle">Latitude (degree)</text>
<text x="127.8" y="15.2" font-size="22.2" text-anchor="start" >(c)</text>
<text x="194.6" y="30.6" font-size="19" text-anchor="start" >JAS</text>
<path d="M528.3 10.2 L533.0999999999999 6.8 L537.9 10.2 L537.9 215.8 L533.0999999999999 219 L528.3 215.8 Z" fill="url(#cbg)" stroke="#777" stroke-width="0.4"/>
<path d="M528.5 10.299999999999999 L533.0999999999999 6.9 L537.6999999999999 10.299999999999999 Z" fill="#e4f54b"/>
<path d="M528.5 215.70000000000002 L533.0999999999999 218.9 L537.6999999999999 215.70000000000002 Z" fill="#032036"/>
<text x="542.3" y="221.9" font-size="17" text-anchor="start" >2000</text>
<text x="542.3" y="180.8" font-size="17" text-anchor="start" >4000</text>
<line x1="535.6" y1="174.7" x2="537.9" y2="174.7" stroke="#555" stroke-width="0.9"/>
<text x="542.3" y="139.7" font-size="17" text-anchor="start" >6000</text>
<line x1="535.6" y1="133.6" x2="537.9" y2="133.6" stroke="#555" stroke-width="0.9"/>
<text x="542.3" y="98.5" font-size="17" text-anchor="start" >8000</text>
<line x1="535.6" y1="92.4" x2="537.9" y2="92.4" stroke="#555" stroke-width="0.9"/>
<text x="542.3" y="57.4" font-size="17" text-anchor="start" >10000</text>
<line x1="535.6" y1="51.3" x2="537.9" y2="51.3" stroke="#555" stroke-width="0.9"/>
<text x="542.3" y="16.3" font-size="17" text-anchor="start" >12000</text>
<text transform="translate(608.4 114.2) rotate(-90)" font-size="17.4" text-anchor="middle">Particle Number</text>
<text transform="translate(632.4 195.3) rotate(-90)" font-size="17.2">Concentration&#160; (cm<tspan font-size="13.5" dy="-8.3" dx="0.4">-3</tspan><tspan dy="8.3" dx="0.8">)</tspan></text>
</g>
<g transform="translate(0 779.7)">
<line x1="194.2" y1="6.5" x2="194.2" y2="200.5" class="grid"/>
<line x1="257.8" y1="6.5" x2="257.8" y2="200.5" class="grid"/>
<line x1="321.4" y1="6.5" x2="321.4" y2="200.5" class="grid"/>
<line x1="385.0" y1="6.5" x2="385.0" y2="200.5" class="grid"/>
<line x1="448.6" y1="6.5" x2="448.6" y2="200.5" class="grid"/>
<line x1="172.5" y1="39.4" x2="508.5" y2="39.4" class="grid"/>
<line x1="172.5" y1="85.7" x2="508.5" y2="85.7" class="grid"/>
<line x1="172.5" y1="132.0" x2="508.5" y2="132.0" class="grid"/>
<line x1="172.5" y1="178.3" x2="508.5" y2="178.3" class="grid"/>
<use href="#ch" fill="#032036"/>
<use href="#roads3"/>
<rect x="172.5" y="6.5" width="336.0" height="194.0" class="frame"/>
<line x1="194.2" y1="200.5" x2="194.2" y2="197.0" class="tick"/>
<text x="194.2" y="222.5" font-size="17" text-anchor="middle" >6.0°E</text>
<line x1="257.8" y1="200.5" x2="257.8" y2="197.0" class="tick"/>
<text x="257.8" y="222.5" font-size="17" text-anchor="middle" >7.0°E</text>
<line x1="321.4" y1="200.5" x2="321.4" y2="197.0" class="tick"/>
<text x="321.4" y="222.5" font-size="17" text-anchor="middle" >8.0°E</text>
<line x1="385.0" y1="200.5" x2="385.0" y2="197.0" class="tick"/>
<text x="385" y="222.5" font-size="17" text-anchor="middle" >9.0°E</text>
<line x1="448.6" y1="200.5" x2="448.6" y2="197.0" class="tick"/>
<text x="448.6" y="222.5" font-size="17" text-anchor="middle" >10.0°E</text>
<line x1="172.5" y1="39.4" x2="176.0" y2="39.4" class="tick"/>
<text x="166.5" y="45.6" font-size="17" text-anchor="end" >47.5°N</text>
<line x1="172.5" y1="85.7" x2="176.0" y2="85.7" class="tick"/>
<text x="166.5" y="91.9" font-size="17" text-anchor="end" >47.0°N</text>
<line x1="172.5" y1="132.0" x2="176.0" y2="132.0" class="tick"/>
<text x="166.5" y="138.2" font-size="17" text-anchor="end" >46.5°N</text>
<line x1="172.5" y1="178.3" x2="176.0" y2="178.3" class="tick"/>
<text x="166.5" y="184.5" font-size="17" text-anchor="end" >46.0°N</text>
<text x="340.5" y="242.5" font-size="19" text-anchor="middle" >Longitude (degree)</text>
<text transform="translate(109.2 103.5) rotate(-90)" font-size="19" text-anchor="middle">Latitude (degree)</text>
<text x="127.8" y="15.2" font-size="22.2" text-anchor="start" >(d)</text>
<text x="194.6" y="29.5" font-size="19" text-anchor="start" >OND</text>
<path d="M528.3 10.2 L533.0999999999999 6.8 L537.9 10.2 L537.9 215.8 L533.0999999999999 219 L528.3 215.8 Z" fill="url(#cbg)" stroke="#777" stroke-width="0.4"/>
<path d="M528.5 10.299999999999999 L533.0999999999999 6.9 L537.6999999999999 10.299999999999999 Z" fill="#e4f54b"/>
<path d="M528.5 215.70000000000002 L533.0999999999999 218.9 L537.6999999999999 215.70000000000002 Z" fill="#032036"/>
<text x="542.3" y="221.9" font-size="17" text-anchor="start" >2000</text>
<text x="542.3" y="180.8" font-size="17" text-anchor="start" >4000</text>
<line x1="535.6" y1="174.7" x2="537.9" y2="174.7" stroke="#555" stroke-width="0.9"/>
<text x="542.3" y="139.7" font-size="17" text-anchor="start" >6000</text>
<line x1="535.6" y1="133.6" x2="537.9" y2="133.6" stroke="#555" stroke-width="0.9"/>
<text x="542.3" y="98.5" font-size="17" text-anchor="start" >8000</text>
<line x1="535.6" y1="92.4" x2="537.9" y2="92.4" stroke="#555" stroke-width="0.9"/>
<text x="542.3" y="57.4" font-size="17" text-anchor="start" >10000</text>
<line x1="535.6" y1="51.3" x2="537.9" y2="51.3" stroke="#555" stroke-width="0.9"/>
<text x="542.3" y="16.3" font-size="17" text-anchor="start" >12000</text>
<text transform="translate(608.4 114.2) rotate(-90)" font-size="17.4" text-anchor="middle">Particle Number</text>
<text transform="translate(632.4 195.3) rotate(-90)" font-size="17.2">Concentration&#160; (cm<tspan font-size="13.5" dy="-8.3" dx="0.4">-3</tspan><tspan dy="8.3" dx="0.8">)</tspan></text>
</g>
<text x="68" y="1014.3" font-size="22.2" text-anchor="start" >(e)</text>
<polygon points="96.3,1183.4 228.8,1138.5 361.3,1088.4 493.9,1157.0 626.5,1212.0 626.5,1229.6 493.9,1222.7 361.3,1218.6 228.8,1212.6 96.3,1220.6" fill="rgba(255,0,0,0.10)"/>
<polygon points="96.3,1183.4 228.8,1135.5 361.3,1105.0 493.9,1159.0 626.5,1212.2 626.5,1229.6 493.9,1218.6 361.3,1214.9 228.8,1209.4 96.3,1218.1" fill="rgba(0,0,139,0.06)"/>
<polygon points="96.3,1182.1 228.8,1139.0 361.3,1105.0 493.9,1158.0 626.5,1211.0 626.5,1229.0 493.9,1218.6 361.3,1235.0 228.8,1209.4 96.3,1218.1" fill="rgba(0,128,0,0.095)"/>
<polyline points="96.3,1202.6 228.8,1180.2 361.3,1153.7 493.9,1192.6 626.5,1221.4" fill="none" stroke="#ff0000" stroke-width="1.6"/>
<circle cx="96.3" cy="1202.6" r="3.3" fill="#ff0000"/>
<circle cx="228.8" cy="1180.2" r="3.3" fill="#ff0000"/>
<circle cx="361.3" cy="1153.7" r="3.3" fill="#ff0000"/>
<circle cx="493.9" cy="1192.6" r="3.3" fill="#ff0000"/>
<circle cx="626.5" cy="1221.4" r="3.3" fill="#ff0000"/>
<polyline points="96.3,1201.6 228.8,1174.0 361.3,1160.0 493.9,1188.8 626.5,1223.3" fill="none" stroke="#00008b" stroke-width="1.6"/>
<circle cx="96.3" cy="1201.6" r="3.3" fill="#00008b"/>
<circle cx="228.8" cy="1174.0" r="3.3" fill="#00008b"/>
<circle cx="361.3" cy="1160.0" r="3.3" fill="#00008b"/>
<circle cx="493.9" cy="1188.8" r="3.3" fill="#00008b"/>
<circle cx="626.5" cy="1223.3" r="3.3" fill="#00008b"/>
<polyline points="96.3,1200.6 228.8,1177.1 361.3,1170.0 493.9,1190.0 626.5,1220.9" fill="none" stroke="#008000" stroke-width="1.6" stroke-dasharray="5.5 2.5"/>
<path d="M93.8 1198.1 l5 5 M98.8 1198.1 l-5 5" stroke="#008000" stroke-width="1.4"/>
<path d="M226.3 1174.6 l5 5 M231.3 1174.6 l-5 5" stroke="#008000" stroke-width="1.4"/>
<path d="M358.8 1167.5 l5 5 M363.8 1167.5 l-5 5" stroke="#008000" stroke-width="1.4"/>
<path d="M491.4 1187.5 l5 5 M496.4 1187.5 l-5 5" stroke="#008000" stroke-width="1.4"/>
<path d="M624.0 1218.4 l5 5 M629.0 1218.4 l-5 5" stroke="#008000" stroke-width="1.4"/>
<rect x="69.5" y="1052.5" width="584" height="189.5" fill="none" stroke="#333" stroke-width="1.1"/>
<line x1="66.5" y1="1232.3" x2="69.5" y2="1232.3" stroke="#333" stroke-width="1"/>
<text x="62.5" y="1238.1" font-size="16" text-anchor="end" >0.0</text>
<line x1="66.5" y1="1177.3" x2="69.5" y2="1177.3" stroke="#333" stroke-width="1"/>
<text x="62.5" y="1183.1" font-size="16" text-anchor="end" >1.5</text>
<line x1="66.5" y1="1122.4" x2="69.5" y2="1122.4" stroke="#333" stroke-width="1"/>
<text x="62.5" y="1128.2" font-size="16" text-anchor="end" >3.0</text>
<line x1="66.5" y1="1067.4" x2="69.5" y2="1067.4" stroke="#333" stroke-width="1"/>
<text x="62.5" y="1073.2" font-size="16" text-anchor="end" >4.5</text>
<line x1="96.3" y1="1242" x2="96.3" y2="1245" stroke="#333" stroke-width="1"/>
<text x="96.3" y="1260.2" font-size="17" text-anchor="middle" >BAS</text>
<text x="96.3" y="1275" font-size="15" text-anchor="middle" >(Suburban)</text>
<line x1="228.8" y1="1242" x2="228.8" y2="1245" stroke="#333" stroke-width="1"/>
<text x="228.8" y="1260.2" font-size="17" text-anchor="middle" >BER</text>
<text x="228.8" y="1275" font-size="15" text-anchor="middle" >(Urban, traffic)</text>
<line x1="361.3" y1="1242" x2="361.3" y2="1245" stroke="#333" stroke-width="1"/>
<text x="361.3" y="1260.2" font-size="17" text-anchor="middle" >HAE</text>
<text x="361.3" y="1275" font-size="15" text-anchor="middle" >(Rural, motorway)</text>
<line x1="493.9" y1="1242" x2="493.9" y2="1245" stroke="#333" stroke-width="1"/>
<text x="493.9" y="1260.2" font-size="17" text-anchor="middle" >LUG</text>
<text x="493.9" y="1275" font-size="15" text-anchor="middle" >(Urban)</text>
<line x1="626.5" y1="1242" x2="626.5" y2="1245" stroke="#333" stroke-width="1"/>
<text x="626.5" y="1260.2" font-size="17" text-anchor="middle" >RIG</text>
<text x="626.5" y="1275" font-size="15" text-anchor="middle" >(Rural, &gt; 1000 m)</text>
<text x="361.5" y="1293.8" font-size="17" text-anchor="middle" >Stations</text>
<path d="M72.7 1040.4L81.0 1048.6M81.0 1040.4L72.7 1048.6" stroke="#000" stroke-width="1.45"/>
<text x="84.4" y="1049.6" font-size="17" text-anchor="start" >10</text>
<text x="102.6" y="1037.6" font-size="10.5" text-anchor="start" >4</text>
<text transform="translate(12.3 1146.6) rotate(-90)" font-size="16.9" text-anchor="middle">Particle Number</text>
<text transform="translate(33.6 1226.3) rotate(-90)" font-size="17">Concentration (cm<tspan font-size="12.6" dy="-7.6" dx="1.2">−3</tspan><tspan dy="7.6" dx="1.8">)</tspan></text>
<line x1="413.5" y1="1072.8" x2="448" y2="1072.8" stroke="#ff0000" stroke-width="1.6"/>
<circle cx="431" cy="1072.8" r="3" fill="#ff0000"/>
<text x="461.5" y="1078.8" font-size="16.5" text-anchor="start" >Average Annual NABEL</text>
<line x1="413.5" y1="1097.0" x2="448" y2="1097.0" stroke="#00008b" stroke-width="1.6"/>
<circle cx="431" cy="1097.0" r="3" fill="#00008b"/>
<text x="461.5" y="1103" font-size="16.5" text-anchor="start" >Site-specific Prediction</text>
<line x1="413.5" y1="1121.2" x2="448" y2="1121.2" stroke="#008000" stroke-width="1.6" stroke-dasharray="4 2.5"/>
<path d="M429.0 1119.2 l4 4 M433.0 1119.2 l-4 4" stroke="#008000" stroke-width="1.3"/>
<text x="461.5" y="1127.2" font-size="16.5" text-anchor="start" >Grid Average Prediction</text>
</svg>
</body></html>
